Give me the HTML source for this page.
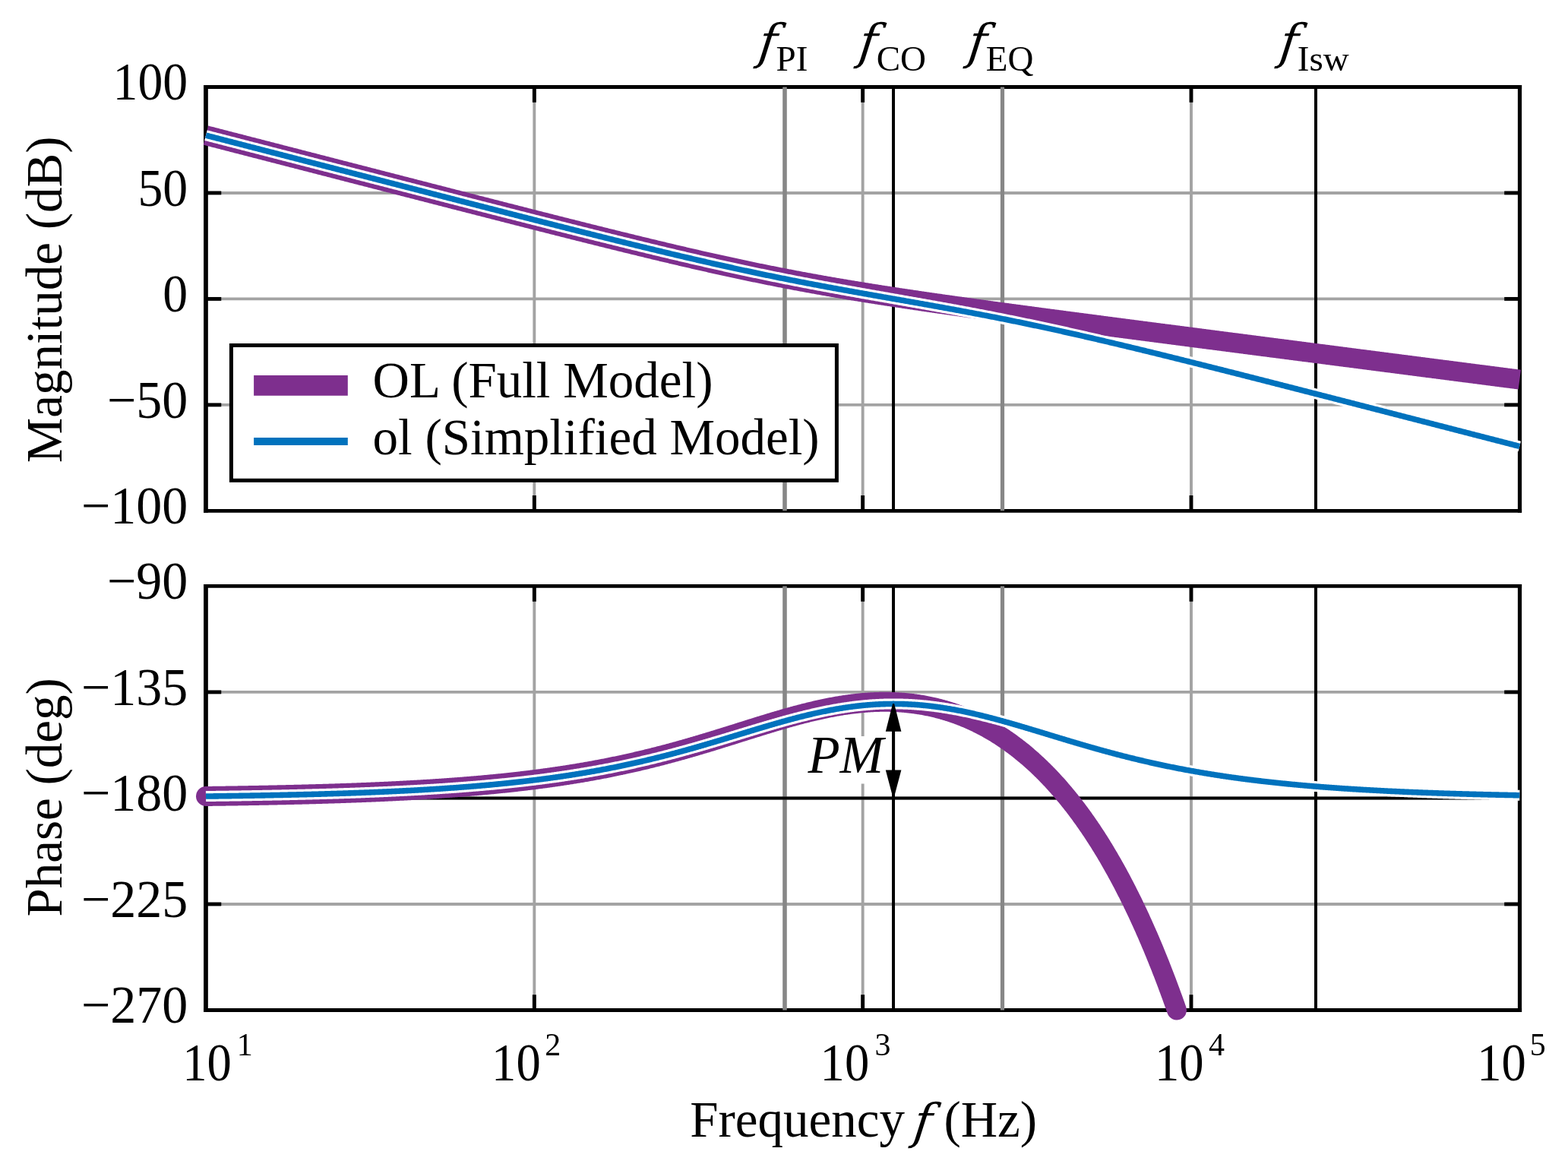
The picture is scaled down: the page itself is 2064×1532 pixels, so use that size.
<!DOCTYPE html><html><head><meta charset="utf-8"><style>html,body{margin:0;padding:0;background:#fff;overflow:hidden}svg{display:block}</style></head><body><svg width="2064" height="1532" viewBox="0 0 2064 1532"><rect x="0" y="0" width="2064" height="1532" fill="#fff"/><g stroke="#a3a3a3" stroke-width="3.9"><line x1="271.0" y1="253.93" x2="2000.32" y2="253.93"/><line x1="271.0" y1="393.40" x2="2000.32" y2="393.40"/><line x1="271.0" y1="532.88" x2="2000.32" y2="532.88"/><line x1="271.0" y1="910.92" x2="2000.32" y2="910.92"/><line x1="271.0" y1="1050.45" x2="2000.32" y2="1050.45"/><line x1="271.0" y1="1189.97" x2="2000.32" y2="1189.97"/><line x1="703.33" y1="114.45" x2="703.33" y2="672.35"/><line x1="703.33" y1="771.4" x2="703.33" y2="1329.5"/><line x1="1135.66" y1="114.45" x2="1135.66" y2="672.35"/><line x1="1135.66" y1="771.4" x2="1135.66" y2="1329.5"/><line x1="1567.99" y1="114.45" x2="1567.99" y2="672.35"/><line x1="1567.99" y1="771.4" x2="1567.99" y2="1329.5"/></g><g stroke="#000" stroke-width="4.9"><line x1="268.05" y1="114.45" x2="2003.10" y2="114.45" stroke-width="4.9"/><line x1="268.05" y1="672.35" x2="2003.10" y2="672.35" stroke-width="4.9"/><line x1="270.95" y1="112.00" x2="270.95" y2="674.80" stroke-width="5.8"/><line x1="2000.5" y1="112.00" x2="2000.5" y2="674.80" stroke-width="5.2"/><line x1="703.33" y1="114.45" x2="703.33" y2="134.75"/><line x1="703.33" y1="672.35" x2="703.33" y2="652.0500000000001"/><line x1="1135.66" y1="114.45" x2="1135.66" y2="134.75"/><line x1="1135.66" y1="672.35" x2="1135.66" y2="652.0500000000001"/><line x1="1567.99" y1="114.45" x2="1567.99" y2="134.75"/><line x1="1567.99" y1="672.35" x2="1567.99" y2="652.0500000000001"/><line x1="270.95" y1="253.93" x2="291.25" y2="253.93"/><line x1="2000.50" y1="253.93" x2="1980.20" y2="253.93"/><line x1="270.95" y1="393.40" x2="291.25" y2="393.40"/><line x1="2000.50" y1="393.40" x2="1980.20" y2="393.40"/><line x1="270.95" y1="532.88" x2="291.25" y2="532.88"/><line x1="2000.50" y1="532.88" x2="1980.20" y2="532.88"/></g><g stroke="#000" stroke-width="4.9"><line x1="268.05" y1="771.4" x2="2003.10" y2="771.4" stroke-width="4.9"/><line x1="268.05" y1="1329.5" x2="2003.10" y2="1329.5" stroke-width="4.9"/><line x1="270.95" y1="768.95" x2="270.95" y2="1331.95" stroke-width="5.8"/><line x1="2000.5" y1="768.95" x2="2000.5" y2="1331.95" stroke-width="5.2"/><line x1="703.33" y1="771.4" x2="703.33" y2="791.6999999999999"/><line x1="703.33" y1="1329.5" x2="703.33" y2="1309.2"/><line x1="1135.66" y1="771.4" x2="1135.66" y2="791.6999999999999"/><line x1="1135.66" y1="1329.5" x2="1135.66" y2="1309.2"/><line x1="1567.99" y1="771.4" x2="1567.99" y2="791.6999999999999"/><line x1="1567.99" y1="1329.5" x2="1567.99" y2="1309.2"/><line x1="270.95" y1="910.92" x2="291.25" y2="910.92"/><line x1="2000.50" y1="910.92" x2="1980.20" y2="910.92"/><line x1="270.95" y1="1050.45" x2="291.25" y2="1050.45"/><line x1="2000.50" y1="1050.45" x2="1980.20" y2="1050.45"/><line x1="270.95" y1="1189.97" x2="291.25" y2="1189.97"/><line x1="2000.50" y1="1189.97" x2="1980.20" y2="1189.97"/></g><line x1="1033.00" y1="114.45" x2="1033.00" y2="672.35" stroke="#878787" stroke-width="5.6"/><line x1="1033.00" y1="771.4" x2="1033.00" y2="1329.5" stroke="#878787" stroke-width="5.6"/><line x1="1176.00" y1="114.45" x2="1176.00" y2="672.35" stroke="#000" stroke-width="4"/><line x1="1176.00" y1="771.4" x2="1176.00" y2="1329.5" stroke="#000" stroke-width="4"/><line x1="1319.50" y1="114.45" x2="1319.50" y2="672.35" stroke="#878787" stroke-width="5.2"/><line x1="1319.50" y1="771.4" x2="1319.50" y2="1329.5" stroke="#878787" stroke-width="5.2"/><line x1="1732.00" y1="114.45" x2="1732.00" y2="672.35" stroke="#000" stroke-width="4"/><line x1="1732.00" y1="771.4" x2="1732.00" y2="1329.5" stroke="#000" stroke-width="4"/><line x1="271.0" y1="1050.45" x2="2000.32" y2="1050.45" stroke="#000" stroke-width="4"/><polyline points="271.00,178.12 272.15,178.42 273.31,178.72 274.46,179.02 275.61,179.31 276.77,179.61 277.92,179.91 279.08,180.21 280.23,180.50 281.38,180.80 282.54,181.10 283.69,181.40 284.84,181.70 286.00,181.99 287.15,182.29 288.30,182.59 289.46,182.89 290.61,183.18 291.77,183.48 292.92,183.78 294.07,184.08 295.23,184.37 296.38,184.67 297.53,184.97 298.69,185.27 299.84,185.57 300.99,185.86 302.15,186.16 303.30,186.46 304.46,186.76 305.61,187.05 306.76,187.35 307.92,187.65 309.07,187.95 310.22,188.24 311.38,188.54 312.53,188.84 313.69,189.14 314.84,189.44 315.99,189.73 317.15,190.03 318.30,190.33 319.45,190.63 320.61,190.92 321.76,191.22 322.91,191.52 324.07,191.82 325.22,192.11 326.38,192.41 327.53,192.71 328.68,193.01 329.84,193.30 330.99,193.60 332.14,193.90 333.30,194.20 334.45,194.50 335.60,194.79 336.76,195.09 337.91,195.39 339.07,195.69 340.22,195.98 341.37,196.28 342.53,196.58 343.68,196.88 344.83,197.17 345.99,197.47 347.14,197.77 348.29,198.07 349.45,198.36 350.60,198.66 351.76,198.96 352.91,199.26 354.06,199.56 355.22,199.85 356.37,200.15 357.52,200.45 358.68,200.75 359.83,201.04 360.98,201.34 362.14,201.64 363.29,201.94 364.45,202.23 365.60,202.53 366.75,202.83 367.91,203.13 369.06,203.42 370.21,203.72 371.37,204.02 372.52,204.32 373.67,204.61 374.83,204.91 375.98,205.21 377.14,205.51 378.29,205.81 379.44,206.10 380.60,206.40 381.75,206.70 382.90,207.00 384.06,207.29 385.21,207.59 386.36,207.89 387.52,208.19 388.67,208.48 389.83,208.78 390.98,209.08 392.13,209.38 393.29,209.67 394.44,209.97 395.59,210.27 396.75,210.57 397.90,210.86 399.06,211.16 400.21,211.46 401.36,211.76 402.52,212.05 403.67,212.35 404.82,212.65 405.98,212.95 407.13,213.24 408.28,213.54 409.44,213.84 410.59,214.14 411.75,214.44 412.90,214.73 414.05,215.03 415.21,215.33 416.36,215.63 417.51,215.92 418.67,216.22 419.82,216.52 420.97,216.82 422.13,217.11 423.28,217.41 424.44,217.71 425.59,218.01 426.74,218.30 427.90,218.60 429.05,218.90 430.20,219.20 431.36,219.49 432.51,219.79 433.66,220.09 434.82,220.39 435.97,220.68 437.13,220.98 438.28,221.28 439.43,221.58 440.59,221.87 441.74,222.17 442.89,222.47 444.05,222.77 445.20,223.06 446.35,223.36 447.51,223.66 448.66,223.96 449.82,224.25 450.97,224.55 452.12,224.85 453.28,225.15 454.43,225.44 455.58,225.74 456.74,226.04 457.89,226.33 459.04,226.63 460.20,226.93 461.35,227.23 462.51,227.52 463.66,227.82 464.81,228.12 465.97,228.42 467.12,228.71 468.27,229.01 469.43,229.31 470.58,229.61 471.73,229.90 472.89,230.20 474.04,230.50 475.20,230.80 476.35,231.09 477.50,231.39 478.66,231.69 479.81,231.98 480.96,232.28 482.12,232.58 483.27,232.88 484.43,233.17 485.58,233.47 486.73,233.77 487.89,234.07 489.04,234.36 490.19,234.66 491.35,234.96 492.50,235.26 493.65,235.55 494.81,235.85 495.96,236.15 497.12,236.44 498.27,236.74 499.42,237.04 500.58,237.34 501.73,237.63 502.88,237.93 504.04,238.23 505.19,238.52 506.34,238.82 507.50,239.12 508.65,239.42 509.81,239.71 510.96,240.01 512.11,240.31 513.27,240.61 514.42,240.90 515.57,241.20 516.73,241.50 517.88,241.79 519.03,242.09 520.19,242.39 521.34,242.69 522.50,242.98 523.65,243.28 524.80,243.58 525.96,243.87 527.11,244.17 528.26,244.47 529.42,244.76 530.57,245.06 531.72,245.36 532.88,245.66 534.03,245.95 535.19,246.25 536.34,246.55 537.49,246.84 538.65,247.14 539.80,247.44 540.95,247.73 542.11,248.03 543.26,248.33 544.41,248.63 545.57,248.92 546.72,249.22 547.88,249.52 549.03,249.81 550.18,250.11 551.34,250.41 552.49,250.70 553.64,251.00 554.80,251.30 555.95,251.59 557.10,251.89 558.26,252.19 559.41,252.48 560.57,252.78 561.72,253.08 562.87,253.38 564.03,253.67 565.18,253.97 566.33,254.27 567.49,254.56 568.64,254.86 569.80,255.16 570.95,255.45 572.10,255.75 573.26,256.05 574.41,256.34 575.56,256.64 576.72,256.94 577.87,257.23 579.02,257.53 580.18,257.83 581.33,258.12 582.49,258.42 583.64,258.71 584.79,259.01 585.95,259.31 587.10,259.60 588.25,259.90 589.41,260.20 590.56,260.49 591.71,260.79 592.87,261.09 594.02,261.38 595.18,261.68 596.33,261.98 597.48,262.27 598.64,262.57 599.79,262.86 600.94,263.16 602.10,263.46 603.25,263.75 604.40,264.05 605.56,264.35 606.71,264.64 607.87,264.94 609.02,265.23 610.17,265.53 611.33,265.83 612.48,266.12 613.63,266.42 614.79,266.71 615.94,267.01 617.09,267.31 618.25,267.60 619.40,267.90 620.56,268.19 621.71,268.49 622.86,268.79 624.02,269.08 625.17,269.38 626.32,269.67 627.48,269.97 628.63,270.27 629.78,270.56 630.94,270.86 632.09,271.15 633.25,271.45 634.40,271.74 635.55,272.04 636.71,272.34 637.86,272.63 639.01,272.93 640.17,273.22 641.32,273.52 642.48,273.81 643.63,274.11 644.78,274.40 645.94,274.70 647.09,274.99 648.24,275.29 649.40,275.58 650.55,275.88 651.70,276.18 652.86,276.47 654.01,276.77 655.17,277.06 656.32,277.36 657.47,277.65 658.63,277.95 659.78,278.24 660.93,278.54 662.09,278.83 663.24,279.13 664.39,279.42 665.55,279.72 666.70,280.01 667.86,280.31 669.01,280.60 670.16,280.89 671.32,281.19 672.47,281.48 673.62,281.78 674.78,282.07 675.93,282.37 677.08,282.66 678.24,282.96 679.39,283.25 680.55,283.55 681.70,283.84 682.85,284.13 684.01,284.43 685.16,284.72 686.31,285.02 687.47,285.31 688.62,285.60 689.77,285.90 690.93,286.19 692.08,286.49 693.24,286.78 694.39,287.07 695.54,287.37 696.70,287.66 697.85,287.96 699.00,288.25 700.16,288.54 701.31,288.84 702.46,289.13 703.62,289.42 704.77,289.72 705.93,290.01 707.08,290.30 708.23,290.60 709.39,290.89 710.54,291.18 711.69,291.48 712.85,291.77 714.00,292.06 715.15,292.36 716.31,292.65 717.46,292.94 718.62,293.23 719.77,293.53 720.92,293.82 722.08,294.11 723.23,294.40 724.38,294.70 725.54,294.99 726.69,295.28 727.85,295.57 729.00,295.87 730.15,296.16 731.31,296.45 732.46,296.74 733.61,297.03 734.77,297.32 735.92,297.62 737.07,297.91 738.23,298.20 739.38,298.49 740.54,298.78 741.69,299.07 742.84,299.37 744.00,299.66 745.15,299.95 746.30,300.24 747.46,300.53 748.61,300.82 749.76,301.11 750.92,301.40 752.07,301.69 753.23,301.98 754.38,302.27 755.53,302.56 756.69,302.86 757.84,303.15 758.99,303.44 760.15,303.73 761.30,304.02 762.45,304.31 763.61,304.60 764.76,304.88 765.92,305.17 767.07,305.46 768.22,305.75 769.38,306.04 770.53,306.33 771.68,306.62 772.84,306.91 773.99,307.20 775.14,307.49 776.30,307.78 777.45,308.07 778.61,308.35 779.76,308.64 780.91,308.93 782.07,309.22 783.22,309.51 784.37,309.79 785.53,310.08 786.68,310.37 787.83,310.66 788.99,310.95 790.14,311.23 791.30,311.52 792.45,311.81 793.60,312.09 794.76,312.38 795.91,312.67 797.06,312.95 798.22,313.24 799.37,313.53 800.52,313.81 801.68,314.10 802.83,314.39 803.99,314.67 805.14,314.96 806.29,315.24 807.45,315.53 808.60,315.81 809.75,316.10 810.91,316.38 812.06,316.67 813.22,316.95 814.37,317.24 815.52,317.52 816.68,317.81 817.83,318.09 818.98,318.38 820.14,318.66 821.29,318.94 822.44,319.23 823.60,319.51 824.75,319.79 825.91,320.08 827.06,320.36 828.21,320.64 829.37,320.92 830.52,321.21 831.67,321.49 832.83,321.77 833.98,322.05 835.13,322.33 836.29,322.62 837.44,322.90 838.60,323.18 839.75,323.46 840.90,323.74 842.06,324.02 843.21,324.30 844.36,324.58 845.52,324.86 846.67,325.14 847.82,325.42 848.98,325.70 850.13,325.98 851.29,326.26 852.44,326.54 853.59,326.82 854.75,327.09 855.90,327.37 857.05,327.65 858.21,327.93 859.36,328.21 860.51,328.48 861.67,328.76 862.82,329.04 863.98,329.31 865.13,329.59 866.28,329.87 867.44,330.14 868.59,330.42 869.74,330.70 870.90,330.97 872.05,331.25 873.20,331.52 874.36,331.80 875.51,332.07 876.67,332.34 877.82,332.62 878.97,332.89 880.13,333.17 881.28,333.44 882.43,333.71 883.59,333.98 884.74,334.26 885.89,334.53 887.05,334.80 888.20,335.07 889.36,335.34 890.51,335.61 891.66,335.89 892.82,336.16 893.97,336.43 895.12,336.70 896.28,336.97 897.43,337.24 898.59,337.50 899.74,337.77 900.89,338.04 902.05,338.31 903.20,338.58 904.35,338.85 905.51,339.11 906.66,339.38 907.81,339.65 908.97,339.91 910.12,340.18 911.28,340.45 912.43,340.71 913.58,340.98 914.74,341.24 915.89,341.51 917.04,341.77 918.20,342.04 919.35,342.30 920.50,342.56 921.66,342.83 922.81,343.09 923.97,343.35 925.12,343.61 926.27,343.87 927.43,344.14 928.58,344.40 929.73,344.66 930.89,344.92 932.04,345.18 933.19,345.44 934.35,345.70 935.50,345.96 936.66,346.22 937.81,346.47 938.96,346.73 940.12,346.99 941.27,347.25 942.42,347.50 943.58,347.76 944.73,348.02 945.88,348.27 947.04,348.53 948.19,348.78 949.35,349.04 950.50,349.29 951.65,349.54 952.81,349.80 953.96,350.05 955.11,350.30 956.27,350.56 957.42,350.81 958.57,351.06 959.73,351.31 960.88,351.56 962.04,351.81 963.19,352.06 964.34,352.31 965.50,352.56 966.65,352.81 967.80,353.06 968.96,353.31 970.11,353.55 971.27,353.80 972.42,354.05 973.57,354.29 974.73,354.54 975.88,354.78 977.03,355.03 978.19,355.27 979.34,355.52 980.49,355.76 981.65,356.01 982.80,356.25 983.96,356.49 985.11,356.73 986.26,356.98 987.42,357.22 988.57,357.46 989.72,357.70 990.88,357.94 992.03,358.18 993.18,358.42 994.34,358.65 995.49,358.89 996.65,359.13 997.80,359.37 998.95,359.61 1000.11,359.84 1001.26,360.08 1002.41,360.31 1003.57,360.55 1004.72,360.78 1005.87,361.02 1007.03,361.25 1008.18,361.48 1009.34,361.72 1010.49,361.95 1011.64,362.18 1012.80,362.41 1013.95,362.64 1015.10,362.87 1016.26,363.10 1017.41,363.33 1018.56,363.56 1019.72,363.79 1020.87,364.02 1022.03,364.25 1023.18,364.48 1024.33,364.70 1025.49,364.93 1026.64,365.16 1027.79,365.38 1028.95,365.61 1030.10,365.83 1031.25,366.06 1032.41,366.28 1033.56,366.50 1034.72,366.73 1035.87,366.95 1037.02,367.17 1038.18,367.39 1039.33,367.61 1040.48,367.83 1041.64,368.05 1042.79,368.27 1043.94,368.49 1045.10,368.71 1046.25,368.93 1047.41,369.15 1048.56,369.36 1049.71,369.58 1050.87,369.80 1052.02,370.01 1053.17,370.23 1054.33,370.44 1055.48,370.66 1056.64,370.87 1057.79,371.09 1058.94,371.30 1060.10,371.51 1061.25,371.73 1062.40,371.94 1063.56,372.15 1064.71,372.36 1065.86,372.57 1067.02,372.78 1068.17,372.99 1069.33,373.20 1070.48,373.41 1071.63,373.62 1072.79,373.83 1073.94,374.03 1075.09,374.24 1076.25,374.45 1077.40,374.65 1078.55,374.86 1079.71,375.06 1080.86,375.27 1082.02,375.47 1083.17,375.68 1084.32,375.88 1085.48,376.08 1086.63,376.29 1087.78,376.49 1088.94,376.69 1090.09,376.89 1091.24,377.09 1092.40,377.29 1093.55,377.50 1094.71,377.70 1095.86,377.89 1097.01,378.09 1098.17,378.29 1099.32,378.49 1100.47,378.69 1101.63,378.89 1102.78,379.08 1103.93,379.28 1105.09,379.48 1106.24,379.67 1107.40,379.87 1108.55,380.06 1109.70,380.26 1110.86,380.45 1112.01,380.65 1113.16,380.84 1114.32,381.03 1115.47,381.22 1116.62,381.42 1117.78,381.61 1118.93,381.80 1120.09,381.99 1121.24,382.18 1122.39,382.37 1123.55,382.56 1124.70,382.75 1125.85,382.94 1127.01,383.13 1128.16,383.32 1129.31,383.51 1130.47,383.70 1131.62,383.88 1132.78,384.07 1133.93,384.26 1135.08,384.44 1136.24,384.63 1137.39,384.82 1138.54,385.00 1139.70,385.19 1140.85,385.37 1142.01,385.56 1143.16,385.74 1144.31,385.93 1145.47,386.11 1146.62,386.29 1147.77,386.48 1148.93,386.66 1150.08,386.84 1151.23,387.02 1152.39,387.20 1153.54,387.38 1154.70,387.57 1155.85,387.75 1157.00,387.93 1158.16,388.11 1159.31,388.29 1160.46,388.47 1161.62,388.65 1162.77,388.82 1163.92,389.00 1165.08,389.18 1166.23,389.36 1167.39,389.54 1168.54,389.71 1169.69,389.89 1170.85,390.07 1172.00,390.24 1173.15,390.42 1174.31,390.60 1175.46,390.77 1176.61,390.95 1177.77,391.12 1178.92,391.30 1180.08,391.47 1181.23,391.65 1182.38,391.82 1183.54,392.00 1184.69,392.17 1185.84,392.34 1187.00,392.52 1188.15,392.69 1189.30,392.86 1190.46,393.03 1191.61,393.21 1192.77,393.38 1193.92,393.55 1195.07,393.72 1196.23,393.89 1197.38,394.06 1198.53,394.23 1199.69,394.41 1200.84,394.58 1201.99,394.75 1203.15,394.92 1204.30,395.09 1205.46,395.25 1206.61,395.42 1207.76,395.59 1208.92,395.76 1210.07,395.93 1211.22,396.10 1212.38,396.27 1213.53,396.43 1214.68,396.60 1215.84,396.77 1216.99,396.94 1218.15,397.10 1219.30,397.27 1220.45,397.44 1221.61,397.61 1222.76,397.77 1223.91,397.94 1225.07,398.10 1226.22,398.27 1227.38,398.44 1228.53,398.60 1229.68,398.77 1230.84,398.93 1231.99,399.10 1233.14,399.26 1234.30,399.43 1235.45,399.59 1236.60,399.75 1237.76,399.92 1238.91,400.08 1240.07,400.25 1241.22,400.41 1242.37,400.57 1243.53,400.74 1244.68,400.90 1245.83,401.06 1246.99,401.22 1248.14,401.39 1249.29,401.55 1250.45,401.71 1251.60,401.87 1252.76,402.04 1253.91,402.20 1255.06,402.36 1256.22,402.52 1257.37,402.68 1258.52,402.84 1259.68,403.01 1260.83,403.17 1261.98,403.33 1263.14,403.49 1264.29,403.65 1265.45,403.81 1266.60,403.97 1267.75,404.13 1268.91,404.29 1270.06,404.45 1271.21,404.61 1272.37,404.77 1273.52,404.93 1274.67,405.09 1275.83,405.25 1276.98,405.41 1278.14,405.57 1279.29,405.72 1280.44,405.88 1281.60,406.04 1282.75,406.20 1283.90,406.36 1285.06,406.52 1286.21,406.68 1287.36,406.83 1288.52,406.99 1289.67,407.15 1290.83,407.31 1291.98,407.47 1293.13,407.62 1294.29,407.78 1295.44,407.94 1296.59,408.10 1297.75,408.25 1298.90,408.41 1300.05,408.57 1301.21,408.73 1302.36,408.88 1303.52,409.04 1304.67,409.20 1305.82,409.35 1306.98,409.51 1308.13,409.67 1309.28,409.82 1310.44,409.98 1311.59,410.13 1312.75,410.29 1313.90,410.45 1315.05,410.60 1316.21,410.76 1317.36,410.91 1318.51,411.07 1319.67,411.23 1320.82,411.38 1321.97,411.54 1323.13,411.69 1324.28,411.85 1325.44,412.00 1326.59,412.16 1327.74,412.31 1328.90,412.47 1330.05,412.62 1331.20,412.78 1332.36,412.93 1333.51,413.09 1334.66,413.24 1335.82,413.40 1336.97,413.55 1338.13,413.71 1339.28,413.86 1340.43,414.01 1341.59,414.17 1342.74,414.32 1343.89,414.48 1345.05,414.63 1346.20,414.78 1347.35,414.94 1348.51,415.09 1349.66,415.25 1350.82,415.40 1351.97,415.55 1353.12,415.71 1354.28,415.86 1355.43,416.01 1356.58,416.17 1357.74,416.32 1358.89,416.47 1360.04,416.63 1361.20,416.78 1362.35,416.93 1363.51,417.09 1364.66,417.24 1365.81,417.39 1366.97,417.55 1368.12,417.70 1369.27,417.85 1370.43,418.01 1371.58,418.16 1372.73,418.31 1373.89,418.46 1375.04,418.62 1376.20,418.77 1377.35,418.92 1378.50,419.07 1379.66,419.23 1380.81,419.38 1381.96,419.53 1383.12,419.68 1384.27,419.84 1385.43,419.99 1386.58,420.14 1387.73,420.29 1388.89,420.45 1390.04,420.60 1391.19,420.75 1392.35,420.90 1393.50,421.05 1394.65,421.21 1395.81,421.36 1396.96,421.51 1398.12,421.66 1399.27,421.81 1400.42,421.97 1401.58,422.12 1402.73,422.27 1403.88,422.42 1405.04,422.57 1406.19,422.72 1407.34,422.88 1408.50,423.03 1409.65,423.18 1410.81,423.33 1411.96,423.48 1413.11,423.63 1414.27,423.78 1415.42,423.94 1416.57,424.09 1417.73,424.24 1418.88,424.39 1420.03,424.54 1421.19,424.69 1422.34,424.84 1423.50,424.99 1424.65,425.15 1425.80,425.30 1426.96,425.45 1428.11,425.60 1429.26,425.75 1430.42,425.90 1431.57,426.05 1432.72,426.20 1433.88,426.35 1435.03,426.50 1436.19,426.66 1437.34,426.81 1438.49,426.96 1439.65,427.11 1440.80,427.26 1441.95,427.41 1443.11,427.56 1444.26,427.71 1445.41,427.86 1446.57,428.01 1447.72,428.16 1448.88,428.31 1450.03,428.46 1451.18,428.62 1452.34,428.77 1453.49,428.92 1454.64,429.07 1455.80,429.22 1456.95,429.37 1458.10,429.52 1459.26,429.67 1460.41,429.82 1461.57,429.97 1462.72,430.12 1463.87,430.27 1465.03,430.42 1466.18,430.57 1467.33,430.72 1468.49,430.87 1469.64,431.02 1470.80,431.17 1471.95,431.32 1473.10,431.47 1474.26,431.62 1475.41,431.77 1476.56,431.92 1477.72,432.07 1478.87,432.22 1480.02,432.37 1481.18,432.52 1482.33,432.67 1483.49,432.82 1484.64,432.97 1485.79,433.12 1486.95,433.27 1488.10,433.42 1489.25,433.57 1490.41,433.72 1491.56,433.87 1492.71,434.02 1493.87,434.17 1495.02,434.32 1496.18,434.47 1497.33,434.62 1498.48,434.77 1499.64,434.92 1500.79,435.07 1501.94,435.22 1503.10,435.37 1504.25,435.52 1505.40,435.67 1506.56,435.82 1507.71,435.97 1508.87,436.12 1510.02,436.27 1511.17,436.42 1512.33,436.57 1513.48,436.72 1514.63,436.87 1515.79,437.02 1516.94,437.17 1518.09,437.32 1519.25,437.47 1520.40,437.62 1521.56,437.77 1522.71,437.92 1523.86,438.07 1525.02,438.22 1526.17,438.37 1527.32,438.52 1528.48,438.67 1529.63,438.82 1530.78,438.97 1531.94,439.12 1533.09,439.27 1534.25,439.42 1535.40,439.57 1536.55,439.72 1537.71,439.86 1538.86,440.01 1540.01,440.16 1541.17,440.31 1542.32,440.46 1543.47,440.61 1544.63,440.76 1545.78,440.91 1546.94,441.06 1548.09,441.21 1549.24,441.36 1550.40,441.51 1551.55,441.66 1552.70,441.81 1553.86,441.96 1555.01,442.11 1556.17,442.26 1557.32,442.41 1558.47,442.56 1559.63,442.71 1560.78,442.85 1561.93,443.00 1563.09,443.15 1564.24,443.30 1565.39,443.45 1566.55,443.60 1567.70,443.75 1568.86,443.90 1570.01,444.05 1571.16,444.20 1572.32,444.35 1573.47,444.50 1574.62,444.65 1575.78,444.80 1576.93,444.95 1578.08,445.09 1579.24,445.24 1580.39,445.39 1581.55,445.54 1582.70,445.69 1583.85,445.84 1585.01,445.99 1586.16,446.14 1587.31,446.29 1588.47,446.44 1589.62,446.59 1590.77,446.74 1591.93,446.89 1593.08,447.04 1594.24,447.18 1595.39,447.33 1596.54,447.48 1597.70,447.63 1598.85,447.78 1600.00,447.93 1601.16,448.08 1602.31,448.23 1603.46,448.38 1604.62,448.53 1605.77,448.68 1606.93,448.83 1608.08,448.98 1609.23,449.12 1610.39,449.27 1611.54,449.42 1612.69,449.57 1613.85,449.72 1615.00,449.87 1616.15,450.02 1617.31,450.17 1618.46,450.32 1619.62,450.47 1620.77,450.62 1621.92,450.77 1623.08,450.91 1624.23,451.06 1625.38,451.21 1626.54,451.36 1627.69,451.51 1628.84,451.66 1630.00,451.81 1631.15,451.96 1632.31,452.11 1633.46,452.26 1634.61,452.41 1635.77,452.56 1636.92,452.70 1638.07,452.85 1639.23,453.00 1640.38,453.15 1641.54,453.30 1642.69,453.45 1643.84,453.60 1645.00,453.75 1646.15,453.90 1647.30,454.05 1648.46,454.20 1649.61,454.34 1650.76,454.49 1651.92,454.64 1653.07,454.79 1654.23,454.94 1655.38,455.09 1656.53,455.24 1657.69,455.39 1658.84,455.54 1659.99,455.69 1661.15,455.84 1662.30,455.98 1663.45,456.13 1664.61,456.28 1665.76,456.43 1666.92,456.58 1668.07,456.73 1669.22,456.88 1670.38,457.03 1671.53,457.18 1672.68,457.33 1673.84,457.47 1674.99,457.62 1676.14,457.77 1677.30,457.92 1678.45,458.07 1679.61,458.22 1680.76,458.37 1681.91,458.52 1683.07,458.67 1684.22,458.82 1685.37,458.96 1686.53,459.11 1687.68,459.26 1688.83,459.41 1689.99,459.56 1691.14,459.71 1692.30,459.86 1693.45,460.01 1694.60,460.16 1695.76,460.31 1696.91,460.45 1698.06,460.60 1699.22,460.75 1700.37,460.90 1701.52,461.05 1702.68,461.20 1703.83,461.35 1704.99,461.50 1706.14,461.65 1707.29,461.80 1708.45,461.94 1709.60,462.09 1710.75,462.24 1711.91,462.39 1713.06,462.54 1714.22,462.69 1715.37,462.84 1716.52,462.99 1717.68,463.14 1718.83,463.29 1719.98,463.43 1721.14,463.58 1722.29,463.73 1723.44,463.88 1724.60,464.03 1725.75,464.18 1726.91,464.33 1728.06,464.48 1729.21,464.63 1730.37,464.78 1731.52,464.92 1732.67,465.07 1733.83,465.22 1734.98,465.37 1736.13,465.52 1737.29,465.67 1738.44,465.82 1739.60,465.97 1740.75,466.12 1741.90,466.26 1743.06,466.41 1744.21,466.56 1745.36,466.71 1746.52,466.86 1747.67,467.01 1748.82,467.16 1749.98,467.31 1751.13,467.46 1752.29,467.61 1753.44,467.75 1754.59,467.90 1755.75,468.05 1756.90,468.20 1758.05,468.35 1759.21,468.50 1760.36,468.65 1761.51,468.80 1762.67,468.95 1763.82,469.09 1764.98,469.24 1766.13,469.39 1767.28,469.54 1768.44,469.69 1769.59,469.84 1770.74,469.99 1771.90,470.14 1773.05,470.29 1774.20,470.44 1775.36,470.58 1776.51,470.73 1777.67,470.88 1778.82,471.03 1779.97,471.18 1781.13,471.33 1782.28,471.48 1783.43,471.63 1784.59,471.78 1785.74,471.92 1786.89,472.07 1788.05,472.22 1789.20,472.37 1790.36,472.52 1791.51,472.67 1792.66,472.82 1793.82,472.97 1794.97,473.12 1796.12,473.26 1797.28,473.41 1798.43,473.56 1799.59,473.71 1800.74,473.86 1801.89,474.01 1803.05,474.16 1804.20,474.31 1805.35,474.46 1806.51,474.60 1807.66,474.75 1808.81,474.90 1809.97,475.05 1811.12,475.20 1812.28,475.35 1813.43,475.50 1814.58,475.65 1815.74,475.80 1816.89,475.95 1818.04,476.09 1819.20,476.24 1820.35,476.39 1821.50,476.54 1822.66,476.69 1823.81,476.84 1824.97,476.99 1826.12,477.14 1827.27,477.29 1828.43,477.43 1829.58,477.58 1830.73,477.73 1831.89,477.88 1833.04,478.03 1834.19,478.18 1835.35,478.33 1836.50,478.48 1837.66,478.63 1838.81,478.77 1839.96,478.92 1841.12,479.07 1842.27,479.22 1843.42,479.37 1844.58,479.52 1845.73,479.67 1846.88,479.82 1848.04,479.97 1849.19,480.11 1850.35,480.26 1851.50,480.41 1852.65,480.56 1853.81,480.71 1854.96,480.86 1856.11,481.01 1857.27,481.16 1858.42,481.31 1859.57,481.45 1860.73,481.60 1861.88,481.75 1863.04,481.90 1864.19,482.05 1865.34,482.20 1866.50,482.35 1867.65,482.50 1868.80,482.65 1869.96,482.79 1871.11,482.94 1872.26,483.09 1873.42,483.24 1874.57,483.39 1875.73,483.54 1876.88,483.69 1878.03,483.84 1879.19,483.99 1880.34,484.13 1881.49,484.28 1882.65,484.43 1883.80,484.58 1884.96,484.73 1886.11,484.88 1887.26,485.03 1888.42,485.18 1889.57,485.33 1890.72,485.47 1891.88,485.62 1893.03,485.77 1894.18,485.92 1895.34,486.07 1896.49,486.22 1897.65,486.37 1898.80,486.52 1899.95,486.67 1901.11,486.81 1902.26,486.96 1903.41,487.11 1904.57,487.26 1905.72,487.41 1906.87,487.56 1908.03,487.71 1909.18,487.86 1910.34,488.01 1911.49,488.15 1912.64,488.30 1913.80,488.45 1914.95,488.60 1916.10,488.75 1917.26,488.90 1918.41,489.05 1919.56,489.20 1920.72,489.35 1921.87,489.49 1923.03,489.64 1924.18,489.79 1925.33,489.94 1926.49,490.09 1927.64,490.24 1928.79,490.39 1929.95,490.54 1931.10,490.69 1932.25,490.83 1933.41,490.98 1934.56,491.13 1935.72,491.28 1936.87,491.43 1938.02,491.58 1939.18,491.73 1940.33,491.88 1941.48,492.03 1942.64,492.17 1943.79,492.32 1944.94,492.47 1946.10,492.62 1947.25,492.77 1948.41,492.92 1949.56,493.07 1950.71,493.22 1951.87,493.37 1953.02,493.51 1954.17,493.66 1955.33,493.81 1956.48,493.96 1957.63,494.11 1958.79,494.26 1959.94,494.41 1961.10,494.56 1962.25,494.71 1963.40,494.85 1964.56,495.00 1965.71,495.15 1966.86,495.30 1968.02,495.45 1969.17,495.60 1970.33,495.75 1971.48,495.90 1972.63,496.05 1973.79,496.19 1974.94,496.34 1976.09,496.49 1977.25,496.64 1978.40,496.79 1979.55,496.94 1980.71,497.09 1981.86,497.24 1983.02,497.39 1984.17,497.53 1985.32,497.68 1986.48,497.83 1987.63,497.98 1988.78,498.13 1989.94,498.28 1991.09,498.43 1992.24,498.58 1993.40,498.73 1994.55,498.87 1995.71,499.02 1996.86,499.17 1998.01,499.32 1999.17,499.47 2000.32,499.62" fill="none" stroke="#7E2F8E" stroke-width="26" stroke-linejoin="round"/><polyline points="271.00,178.12 272.15,178.42 273.31,178.72 274.46,179.02 275.61,179.31 276.77,179.61 277.92,179.91 279.08,180.21 280.23,180.50 281.38,180.80 282.54,181.10 283.69,181.40 284.84,181.70 286.00,181.99 287.15,182.29 288.30,182.59 289.46,182.89 290.61,183.18 291.77,183.48 292.92,183.78 294.07,184.08 295.23,184.37 296.38,184.67 297.53,184.97 298.69,185.27 299.84,185.57 300.99,185.86 302.15,186.16 303.30,186.46 304.46,186.76 305.61,187.05 306.76,187.35 307.92,187.65 309.07,187.95 310.22,188.24 311.38,188.54 312.53,188.84 313.69,189.14 314.84,189.44 315.99,189.73 317.15,190.03 318.30,190.33 319.45,190.63 320.61,190.92 321.76,191.22 322.91,191.52 324.07,191.82 325.22,192.11 326.38,192.41 327.53,192.71 328.68,193.01 329.84,193.31 330.99,193.60 332.14,193.90 333.30,194.20 334.45,194.50 335.60,194.79 336.76,195.09 337.91,195.39 339.07,195.69 340.22,195.98 341.37,196.28 342.53,196.58 343.68,196.88 344.83,197.17 345.99,197.47 347.14,197.77 348.29,198.07 349.45,198.37 350.60,198.66 351.76,198.96 352.91,199.26 354.06,199.56 355.22,199.85 356.37,200.15 357.52,200.45 358.68,200.75 359.83,201.04 360.98,201.34 362.14,201.64 363.29,201.94 364.45,202.23 365.60,202.53 366.75,202.83 367.91,203.13 369.06,203.43 370.21,203.72 371.37,204.02 372.52,204.32 373.67,204.62 374.83,204.91 375.98,205.21 377.14,205.51 378.29,205.81 379.44,206.10 380.60,206.40 381.75,206.70 382.90,207.00 384.06,207.29 385.21,207.59 386.36,207.89 387.52,208.19 388.67,208.48 389.83,208.78 390.98,209.08 392.13,209.38 393.29,209.67 394.44,209.97 395.59,210.27 396.75,210.57 397.90,210.87 399.06,211.16 400.21,211.46 401.36,211.76 402.52,212.06 403.67,212.35 404.82,212.65 405.98,212.95 407.13,213.25 408.28,213.54 409.44,213.84 410.59,214.14 411.75,214.44 412.90,214.73 414.05,215.03 415.21,215.33 416.36,215.63 417.51,215.92 418.67,216.22 419.82,216.52 420.97,216.82 422.13,217.11 423.28,217.41 424.44,217.71 425.59,218.01 426.74,218.30 427.90,218.60 429.05,218.90 430.20,219.20 431.36,219.49 432.51,219.79 433.66,220.09 434.82,220.39 435.97,220.68 437.13,220.98 438.28,221.28 439.43,221.58 440.59,221.87 441.74,222.17 442.89,222.47 444.05,222.77 445.20,223.06 446.35,223.36 447.51,223.66 448.66,223.96 449.82,224.25 450.97,224.55 452.12,224.85 453.28,225.15 454.43,225.44 455.58,225.74 456.74,226.04 457.89,226.34 459.04,226.63 460.20,226.93 461.35,227.23 462.51,227.53 463.66,227.82 464.81,228.12 465.97,228.42 467.12,228.72 468.27,229.01 469.43,229.31 470.58,229.61 471.73,229.90 472.89,230.20 474.04,230.50 475.20,230.80 476.35,231.09 477.50,231.39 478.66,231.69 479.81,231.99 480.96,232.28 482.12,232.58 483.27,232.88 484.43,233.18 485.58,233.47 486.73,233.77 487.89,234.07 489.04,234.37 490.19,234.66 491.35,234.96 492.50,235.26 493.65,235.55 494.81,235.85 495.96,236.15 497.12,236.45 498.27,236.74 499.42,237.04 500.58,237.34 501.73,237.64 502.88,237.93 504.04,238.23 505.19,238.53 506.34,238.82 507.50,239.12 508.65,239.42 509.81,239.72 510.96,240.01 512.11,240.31 513.27,240.61 514.42,240.90 515.57,241.20 516.73,241.50 517.88,241.80 519.03,242.09 520.19,242.39 521.34,242.69 522.50,242.98 523.65,243.28 524.80,243.58 525.96,243.88 527.11,244.17 528.26,244.47 529.42,244.77 530.57,245.06 531.72,245.36 532.88,245.66 534.03,245.96 535.19,246.25 536.34,246.55 537.49,246.85 538.65,247.14 539.80,247.44 540.95,247.74 542.11,248.03 543.26,248.33 544.41,248.63 545.57,248.93 546.72,249.22 547.88,249.52 549.03,249.82 550.18,250.11 551.34,250.41 552.49,250.71 553.64,251.00 554.80,251.30 555.95,251.60 557.10,251.89 558.26,252.19 559.41,252.49 560.57,252.79 561.72,253.08 562.87,253.38 564.03,253.68 565.18,253.97 566.33,254.27 567.49,254.57 568.64,254.86 569.80,255.16 570.95,255.46 572.10,255.75 573.26,256.05 574.41,256.35 575.56,256.64 576.72,256.94 577.87,257.24 579.02,257.53 580.18,257.83 581.33,258.13 582.49,258.42 583.64,258.72 584.79,259.02 585.95,259.31 587.10,259.61 588.25,259.91 589.41,260.20 590.56,260.50 591.71,260.80 592.87,261.09 594.02,261.39 595.18,261.68 596.33,261.98 597.48,262.28 598.64,262.57 599.79,262.87 600.94,263.17 602.10,263.46 603.25,263.76 604.40,264.06 605.56,264.35 606.71,264.65 607.87,264.94 609.02,265.24 610.17,265.54 611.33,265.83 612.48,266.13 613.63,266.43 614.79,266.72 615.94,267.02 617.09,267.31 618.25,267.61 619.40,267.91 620.56,268.20 621.71,268.50 622.86,268.79 624.02,269.09 625.17,269.39 626.32,269.68 627.48,269.98 628.63,270.27 629.78,270.57 630.94,270.86 632.09,271.16 633.25,271.46 634.40,271.75 635.55,272.05 636.71,272.34 637.86,272.64 639.01,272.93 640.17,273.23 641.32,273.53 642.48,273.82 643.63,274.12 644.78,274.41 645.94,274.71 647.09,275.00 648.24,275.30 649.40,275.59 650.55,275.89 651.70,276.19 652.86,276.48 654.01,276.78 655.17,277.07 656.32,277.37 657.47,277.66 658.63,277.96 659.78,278.25 660.93,278.55 662.09,278.84 663.24,279.14 664.39,279.43 665.55,279.73 666.70,280.02 667.86,280.32 669.01,280.61 670.16,280.91 671.32,281.20 672.47,281.50 673.62,281.79 674.78,282.09 675.93,282.38 677.08,282.68 678.24,282.97 679.39,283.26 680.55,283.56 681.70,283.85 682.85,284.15 684.01,284.44 685.16,284.74 686.31,285.03 687.47,285.33 688.62,285.62 689.77,285.91 690.93,286.21 692.08,286.50 693.24,286.80 694.39,287.09 695.54,287.38 696.70,287.68 697.85,287.97 699.00,288.27 700.16,288.56 701.31,288.85 702.46,289.15 703.62,289.44 704.77,289.73 705.93,290.03 707.08,290.32 708.23,290.61 709.39,290.91 710.54,291.20 711.69,291.49 712.85,291.79 714.00,292.08 715.15,292.37 716.31,292.67 717.46,292.96 718.62,293.25 719.77,293.55 720.92,293.84 722.08,294.13 723.23,294.42 724.38,294.72 725.54,295.01 726.69,295.30 727.85,295.60 729.00,295.89 730.15,296.18 731.31,296.47 732.46,296.76 733.61,297.06 734.77,297.35 735.92,297.64 737.07,297.93 738.23,298.22 739.38,298.52 740.54,298.81 741.69,299.10 742.84,299.39 744.00,299.68 745.15,299.97 746.30,300.27 747.46,300.56 748.61,300.85 749.76,301.14 750.92,301.43 752.07,301.72 753.23,302.01 754.38,302.30 755.53,302.59 756.69,302.89 757.84,303.18 758.99,303.47 760.15,303.76 761.30,304.05 762.45,304.34 763.61,304.63 764.76,304.92 765.92,305.21 767.07,305.50 768.22,305.79 769.38,306.08 770.53,306.37 771.68,306.66 772.84,306.95 773.99,307.24 775.14,307.52 776.30,307.81 777.45,308.10 778.61,308.39 779.76,308.68 780.91,308.97 782.07,309.26 783.22,309.55 784.37,309.84 785.53,310.12 786.68,310.41 787.83,310.70 788.99,310.99 790.14,311.28 791.30,311.56 792.45,311.85 793.60,312.14 794.76,312.43 795.91,312.71 797.06,313.00 798.22,313.29 799.37,313.57 800.52,313.86 801.68,314.15 802.83,314.44 803.99,314.72 805.14,315.01 806.29,315.29 807.45,315.58 808.60,315.87 809.75,316.15 810.91,316.44 812.06,316.72 813.22,317.01 814.37,317.29 815.52,317.58 816.68,317.86 817.83,318.15 818.98,318.43 820.14,318.72 821.29,319.00 822.44,319.29 823.60,319.57 824.75,319.86 825.91,320.14 827.06,320.42 828.21,320.71 829.37,320.99 830.52,321.27 831.67,321.56 832.83,321.84 833.98,322.12 835.13,322.40 836.29,322.69 837.44,322.97 838.60,323.25 839.75,323.53 840.90,323.81 842.06,324.10 843.21,324.38 844.36,324.66 845.52,324.94 846.67,325.22 847.82,325.50 848.98,325.78 850.13,326.06 851.29,326.34 852.44,326.62 853.59,326.90 854.75,327.18 855.90,327.46 857.05,327.74 858.21,328.02 859.36,328.30 860.51,328.57 861.67,328.85 862.82,329.13 863.98,329.41 865.13,329.69 866.28,329.96 867.44,330.24 868.59,330.52 869.74,330.80 870.90,331.07 872.05,331.35 873.20,331.62 874.36,331.90 875.51,332.18 876.67,332.45 877.82,332.73 878.97,333.00 880.13,333.28 881.28,333.55 882.43,333.83 883.59,334.10 884.74,334.37 885.89,334.65 887.05,334.92 888.20,335.19 889.36,335.47 890.51,335.74 891.66,336.01 892.82,336.28 893.97,336.56 895.12,336.83 896.28,337.10 897.43,337.37 898.59,337.64 899.74,337.91 900.89,338.18 902.05,338.45 903.20,338.72 904.35,338.99 905.51,339.26 906.66,339.53 907.81,339.80 908.97,340.07 910.12,340.33 911.28,340.60 912.43,340.87 913.58,341.14 914.74,341.40 915.89,341.67 917.04,341.94 918.20,342.20 919.35,342.47 920.50,342.73 921.66,343.00 922.81,343.26 923.97,343.53 925.12,343.79 926.27,344.06 927.43,344.32 928.58,344.58 929.73,344.85 930.89,345.11 932.04,345.37 933.19,345.63 934.35,345.90 935.50,346.16 936.66,346.42 937.81,346.68 938.96,346.94 940.12,347.20 941.27,347.46 942.42,347.72 943.58,347.98 944.73,348.24 945.88,348.50 947.04,348.75 948.19,349.01 949.35,349.27 950.50,349.53 951.65,349.78 952.81,350.04 953.96,350.30 955.11,350.55 956.27,350.81 957.42,351.06 958.57,351.32 959.73,351.57 960.88,351.82 962.04,352.08 963.19,352.33 964.34,352.58 965.50,352.84 966.65,353.09 967.80,353.34 968.96,353.59 970.11,353.84 971.27,354.09 972.42,354.34 973.57,354.59 974.73,354.84 975.88,355.09 977.03,355.34 978.19,355.59 979.34,355.84 980.49,356.09 981.65,356.33 982.80,356.58 983.96,356.83 985.11,357.07 986.26,357.32 987.42,357.56 988.57,357.81 989.72,358.05 990.88,358.30 992.03,358.54 993.18,358.79 994.34,359.03 995.49,359.27 996.65,359.51 997.80,359.76 998.95,360.00 1000.11,360.24 1001.26,360.48 1002.41,360.72 1003.57,360.96 1004.72,361.20 1005.87,361.44 1007.03,361.68 1008.18,361.92 1009.34,362.15 1010.49,362.39 1011.64,362.63 1012.80,362.87 1013.95,363.10 1015.10,363.34 1016.26,363.57 1017.41,363.81 1018.56,364.05 1019.72,364.28 1020.87,364.51 1022.03,364.75 1023.18,364.98 1024.33,365.21 1025.49,365.45 1026.64,365.68 1027.79,365.91 1028.95,366.14 1030.10,366.37 1031.25,366.60 1032.41,366.84 1033.56,367.07 1034.72,367.29 1035.87,367.52 1037.02,367.75 1038.18,367.98 1039.33,368.21 1040.48,368.44 1041.64,368.67 1042.79,368.89 1043.94,369.12 1045.10,369.35 1046.25,369.57 1047.41,369.80 1048.56,370.02 1049.71,370.25 1050.87,370.47 1052.02,370.70 1053.17,370.92 1054.33,371.14 1055.48,371.37 1056.64,371.59 1057.79,371.81 1058.94,372.03 1060.10,372.25 1061.25,372.48 1062.40,372.70 1063.56,372.92 1064.71,373.14 1065.86,373.36 1067.02,373.58 1068.17,373.80 1069.33,374.02 1070.48,374.23 1071.63,374.45 1072.79,374.67 1073.94,374.89 1075.09,375.10 1076.25,375.32 1077.40,375.54 1078.55,375.75 1079.71,375.97 1080.86,376.19 1082.02,376.40 1083.17,376.62 1084.32,376.83 1085.48,377.05 1086.63,377.26 1087.78,377.47 1088.94,377.69 1090.09,377.90 1091.24,378.12 1092.40,378.33 1093.55,378.54 1094.71,378.75 1095.86,378.96 1097.01,379.18 1098.17,379.39 1099.32,379.60 1100.47,379.81 1101.63,380.02 1102.78,380.23 1103.93,380.44 1105.09,380.65 1106.24,380.86 1107.40,381.07 1108.55,381.28 1109.70,381.49 1110.86,381.70 1112.01,381.91 1113.16,382.11 1114.32,382.32 1115.47,382.53 1116.62,382.74 1117.78,382.95 1118.93,383.15 1120.09,383.36 1121.24,383.57 1122.39,383.77 1123.55,383.98 1124.70,384.19 1125.85,384.39 1127.01,384.60 1128.16,384.80 1129.31,385.01 1130.47,385.21 1131.62,385.42 1132.78,385.63 1133.93,385.83 1135.08,386.03 1136.24,386.24 1137.39,386.44 1138.54,386.65 1139.70,386.85 1140.85,387.06 1142.01,387.26 1143.16,387.46 1144.31,387.67 1145.47,387.87 1146.62,388.08 1147.77,388.28 1148.93,388.48 1150.08,388.69 1151.23,388.89 1152.39,389.09 1153.54,389.29 1154.70,389.50 1155.85,389.70 1157.00,389.90 1158.16,390.10 1159.31,390.31 1160.46,390.51 1161.62,390.71 1162.77,390.91 1163.92,391.12 1165.08,391.32 1166.23,391.52 1167.39,391.72 1168.54,391.93 1169.69,392.13 1170.85,392.33 1172.00,392.53 1173.15,392.73 1174.31,392.94 1175.46,393.14 1176.61,393.34 1177.77,393.54 1178.92,393.74 1180.08,393.95 1181.23,394.15 1182.38,394.35 1183.54,394.55 1184.69,394.76 1185.84,394.96 1187.00,395.16 1188.15,395.36 1189.30,395.56 1190.46,395.77 1191.61,395.97 1192.77,396.17 1193.92,396.37 1195.07,396.58 1196.23,396.78 1197.38,396.98 1198.53,397.18 1199.69,397.39 1200.84,397.59 1201.99,397.79 1203.15,398.00 1204.30,398.20 1205.46,398.40 1206.61,398.61 1207.76,398.81 1208.92,399.01 1210.07,399.22 1211.22,399.42 1212.38,399.63 1213.53,399.83 1214.68,400.03 1215.84,400.24 1216.99,400.44 1218.15,400.65 1219.30,400.85 1220.45,401.06 1221.61,401.26 1222.76,401.47 1223.91,401.67 1225.07,401.88 1226.22,402.09 1227.38,402.29 1228.53,402.50 1229.68,402.70 1230.84,402.91 1231.99,403.12 1233.14,403.32 1234.30,403.53 1235.45,403.74 1236.60,403.95 1237.76,404.15 1238.91,404.36 1240.07,404.57 1241.22,404.78 1242.37,404.99 1243.53,405.20 1244.68,405.41 1245.83,405.62 1246.99,405.82 1248.14,406.03 1249.29,406.24 1250.45,406.46 1251.60,406.67 1252.76,406.88 1253.91,407.09 1255.06,407.30 1256.22,407.51 1257.37,407.72 1258.52,407.93 1259.68,408.15 1260.83,408.36 1261.98,408.57 1263.14,408.79 1264.29,409.00 1265.45,409.21 1266.60,409.43 1267.75,409.64 1268.91,409.86 1270.06,410.07 1271.21,410.29 1272.37,410.50 1273.52,410.72 1274.67,410.94 1275.83,411.15 1276.98,411.37 1278.14,411.59 1279.29,411.80 1280.44,412.02 1281.60,412.24 1282.75,412.46 1283.90,412.68 1285.06,412.90 1286.21,413.12 1287.36,413.34 1288.52,413.56 1289.67,413.78 1290.83,414.00 1291.98,414.22 1293.13,414.44 1294.29,414.66 1295.44,414.88 1296.59,415.11 1297.75,415.33 1298.90,415.55 1300.05,415.78 1301.21,416.00 1302.36,416.22 1303.52,416.45 1304.67,416.67 1305.82,416.90 1306.98,417.13 1308.13,417.35 1309.28,417.58 1310.44,417.80 1311.59,418.03 1312.75,418.26 1313.90,418.49 1315.05,418.72 1316.21,418.94 1317.36,419.17 1318.51,419.40 1319.67,419.63 1320.82,419.86 1321.97,420.09 1323.13,420.33 1324.28,420.56 1325.44,420.79 1326.59,421.02 1327.74,421.25 1328.90,421.49 1330.05,421.72 1331.20,421.95 1332.36,422.19 1333.51,422.42 1334.66,422.66 1335.82,422.89 1336.97,423.13 1338.13,423.36 1339.28,423.60 1340.43,423.84 1341.59,424.07 1342.74,424.31 1343.89,424.55 1345.05,424.79 1346.20,425.03 1347.35,425.27 1348.51,425.51 1349.66,425.75 1350.82,425.99 1351.97,426.23 1353.12,426.47 1354.28,426.71 1355.43,426.95 1356.58,427.19 1357.74,427.44 1358.89,427.68 1360.04,427.92 1361.20,428.17 1362.35,428.41 1363.51,428.65 1364.66,428.90 1365.81,429.14 1366.97,429.39 1368.12,429.64 1369.27,429.88 1370.43,430.13 1371.58,430.38 1372.73,430.62 1373.89,430.87 1375.04,431.12 1376.20,431.37 1377.35,431.62 1378.50,431.87 1379.66,432.12 1380.81,432.37 1381.96,432.62 1383.12,432.87 1384.27,433.12 1385.43,433.37 1386.58,433.62 1387.73,433.88 1388.89,434.13 1390.04,434.38 1391.19,434.64 1392.35,434.89 1393.50,435.14 1394.65,435.40 1395.81,435.65 1396.96,435.91 1398.12,436.16 1399.27,436.42 1400.42,436.68 1401.58,436.93 1402.73,437.19 1403.88,437.45 1405.04,437.70 1406.19,437.96 1407.34,438.22 1408.50,438.48 1409.65,438.74 1410.81,439.00 1411.96,439.26 1413.11,439.52 1414.27,439.78 1415.42,440.04 1416.57,440.30 1417.73,440.56 1418.88,440.82 1420.03,441.08 1421.19,441.35 1422.34,441.61 1423.50,441.87 1424.65,442.14 1425.80,442.40 1426.96,442.66 1428.11,442.93 1429.26,443.19 1430.42,443.46 1431.57,443.72 1432.72,443.99 1433.88,444.25 1435.03,444.52 1436.19,444.78 1437.34,445.05 1438.49,445.32 1439.65,445.59 1440.80,445.85 1441.95,446.12 1443.11,446.39 1444.26,446.66 1445.41,446.93 1446.57,447.19 1447.72,447.46 1448.88,447.73 1450.03,448.00 1451.18,448.27 1452.34,448.54 1453.49,448.81 1454.64,449.08 1455.80,449.35 1456.95,449.63 1458.10,449.90 1459.26,450.17 1460.41,450.44 1461.57,450.71 1462.72,450.99 1463.87,451.26 1465.03,451.53 1466.18,451.81 1467.33,452.08 1468.49,452.35 1469.64,452.63 1470.80,452.90 1471.95,453.18 1473.10,453.45 1474.26,453.72 1475.41,454.00 1476.56,454.28 1477.72,454.55 1478.87,454.83 1480.02,455.10 1481.18,455.38 1482.33,455.66 1483.49,455.93 1484.64,456.21 1485.79,456.49 1486.95,456.76 1488.10,457.04 1489.25,457.32 1490.41,457.60 1491.56,457.88 1492.71,458.15 1493.87,458.43 1495.02,458.71 1496.18,458.99 1497.33,459.27 1498.48,459.55 1499.64,459.83 1500.79,460.11 1501.94,460.39 1503.10,460.67 1504.25,460.95 1505.40,461.23 1506.56,461.51 1507.71,461.79 1508.87,462.07 1510.02,462.35 1511.17,462.64 1512.33,462.92 1513.48,463.20 1514.63,463.48 1515.79,463.76 1516.94,464.05 1518.09,464.33 1519.25,464.61 1520.40,464.89 1521.56,465.18 1522.71,465.46 1523.86,465.74 1525.02,466.03 1526.17,466.31 1527.32,466.59 1528.48,466.88 1529.63,467.16 1530.78,467.45 1531.94,467.73 1533.09,468.01 1534.25,468.30 1535.40,468.58 1536.55,468.87 1537.71,469.15 1538.86,469.44 1540.01,469.72 1541.17,470.01 1542.32,470.30 1543.47,470.58 1544.63,470.87 1545.78,471.15 1546.94,471.44 1548.09,471.73 1549.24,472.01 1550.40,472.30 1551.55,472.59 1552.70,472.87 1553.86,473.16 1555.01,473.45 1556.17,473.73 1557.32,474.02 1558.47,474.31 1559.63,474.60 1560.78,474.88 1561.93,475.17 1563.09,475.46 1564.24,475.75 1565.39,476.04 1566.55,476.32 1567.70,476.61 1568.86,476.90 1570.01,477.19 1571.16,477.48 1572.32,477.77 1573.47,478.06 1574.62,478.34 1575.78,478.63 1576.93,478.92 1578.08,479.21 1579.24,479.50 1580.39,479.79 1581.55,480.08 1582.70,480.37 1583.85,480.66 1585.01,480.95 1586.16,481.24 1587.31,481.53 1588.47,481.82 1589.62,482.11 1590.77,482.40 1591.93,482.69 1593.08,482.98 1594.24,483.27 1595.39,483.56 1596.54,483.85 1597.70,484.14 1598.85,484.43 1600.00,484.72 1601.16,485.02 1602.31,485.31 1603.46,485.60 1604.62,485.89 1605.77,486.18 1606.93,486.47 1608.08,486.76 1609.23,487.05 1610.39,487.35 1611.54,487.64 1612.69,487.93 1613.85,488.22 1615.00,488.51 1616.15,488.81 1617.31,489.10 1618.46,489.39 1619.62,489.68 1620.77,489.97 1621.92,490.27 1623.08,490.56 1624.23,490.85 1625.38,491.14 1626.54,491.44 1627.69,491.73 1628.84,492.02 1630.00,492.31 1631.15,492.61 1632.31,492.90 1633.46,493.19 1634.61,493.48 1635.77,493.78 1636.92,494.07 1638.07,494.36 1639.23,494.66 1640.38,494.95 1641.54,495.24 1642.69,495.54 1643.84,495.83 1645.00,496.12 1646.15,496.42 1647.30,496.71 1648.46,497.00 1649.61,497.30 1650.76,497.59 1651.92,497.89 1653.07,498.18 1654.23,498.47 1655.38,498.77 1656.53,499.06 1657.69,499.35 1658.84,499.65 1659.99,499.94 1661.15,500.24 1662.30,500.53 1663.45,500.83 1664.61,501.12 1665.76,501.41 1666.92,501.71 1668.07,502.00 1669.22,502.30 1670.38,502.59 1671.53,502.89 1672.68,503.18 1673.84,503.47 1674.99,503.77 1676.14,504.06 1677.30,504.36 1678.45,504.65 1679.61,504.95 1680.76,505.24 1681.91,505.54 1683.07,505.83 1684.22,506.13 1685.37,506.42 1686.53,506.72 1687.68,507.01 1688.83,507.31 1689.99,507.60 1691.14,507.90 1692.30,508.19 1693.45,508.49 1694.60,508.78 1695.76,509.08 1696.91,509.37 1698.06,509.67 1699.22,509.96 1700.37,510.26 1701.52,510.55 1702.68,510.85 1703.83,511.15 1704.99,511.44 1706.14,511.74 1707.29,512.03 1708.45,512.33 1709.60,512.62 1710.75,512.92 1711.91,513.21 1713.06,513.51 1714.22,513.81 1715.37,514.10 1716.52,514.40 1717.68,514.69 1718.83,514.99 1719.98,515.28 1721.14,515.58 1722.29,515.88 1723.44,516.17 1724.60,516.47 1725.75,516.76 1726.91,517.06 1728.06,517.35 1729.21,517.65 1730.37,517.95 1731.52,518.24 1732.67,518.54 1733.83,518.83 1734.98,519.13 1736.13,519.43 1737.29,519.72 1738.44,520.02 1739.60,520.32 1740.75,520.61 1741.90,520.91 1743.06,521.20 1744.21,521.50 1745.36,521.80 1746.52,522.09 1747.67,522.39 1748.82,522.69 1749.98,522.98 1751.13,523.28 1752.29,523.57 1753.44,523.87 1754.59,524.17 1755.75,524.46 1756.90,524.76 1758.05,525.06 1759.21,525.35 1760.36,525.65 1761.51,525.95 1762.67,526.24 1763.82,526.54 1764.98,526.83 1766.13,527.13 1767.28,527.43 1768.44,527.72 1769.59,528.02 1770.74,528.32 1771.90,528.61 1773.05,528.91 1774.20,529.21 1775.36,529.50 1776.51,529.80 1777.67,530.10 1778.82,530.39 1779.97,530.69 1781.13,530.99 1782.28,531.28 1783.43,531.58 1784.59,531.88 1785.74,532.17 1786.89,532.47 1788.05,532.77 1789.20,533.06 1790.36,533.36 1791.51,533.66 1792.66,533.96 1793.82,534.25 1794.97,534.55 1796.12,534.85 1797.28,535.14 1798.43,535.44 1799.59,535.74 1800.74,536.03 1801.89,536.33 1803.05,536.63 1804.20,536.92 1805.35,537.22 1806.51,537.52 1807.66,537.82 1808.81,538.11 1809.97,538.41 1811.12,538.71 1812.28,539.00 1813.43,539.30 1814.58,539.60 1815.74,539.89 1816.89,540.19 1818.04,540.49 1819.20,540.79 1820.35,541.08 1821.50,541.38 1822.66,541.68 1823.81,541.97 1824.97,542.27 1826.12,542.57 1827.27,542.86 1828.43,543.16 1829.58,543.46 1830.73,543.76 1831.89,544.05 1833.04,544.35 1834.19,544.65 1835.35,544.94 1836.50,545.24 1837.66,545.54 1838.81,545.84 1839.96,546.13 1841.12,546.43 1842.27,546.73 1843.42,547.03 1844.58,547.32 1845.73,547.62 1846.88,547.92 1848.04,548.21 1849.19,548.51 1850.35,548.81 1851.50,549.11 1852.65,549.40 1853.81,549.70 1854.96,550.00 1856.11,550.29 1857.27,550.59 1858.42,550.89 1859.57,551.19 1860.73,551.48 1861.88,551.78 1863.04,552.08 1864.19,552.38 1865.34,552.67 1866.50,552.97 1867.65,553.27 1868.80,553.57 1869.96,553.86 1871.11,554.16 1872.26,554.46 1873.42,554.75 1874.57,555.05 1875.73,555.35 1876.88,555.65 1878.03,555.94 1879.19,556.24 1880.34,556.54 1881.49,556.84 1882.65,557.13 1883.80,557.43 1884.96,557.73 1886.11,558.03 1887.26,558.32 1888.42,558.62 1889.57,558.92 1890.72,559.22 1891.88,559.51 1893.03,559.81 1894.18,560.11 1895.34,560.41 1896.49,560.70 1897.65,561.00 1898.80,561.30 1899.95,561.60 1901.11,561.89 1902.26,562.19 1903.41,562.49 1904.57,562.78 1905.72,563.08 1906.87,563.38 1908.03,563.68 1909.18,563.97 1910.34,564.27 1911.49,564.57 1912.64,564.87 1913.80,565.16 1914.95,565.46 1916.10,565.76 1917.26,566.06 1918.41,566.35 1919.56,566.65 1920.72,566.95 1921.87,567.25 1923.03,567.54 1924.18,567.84 1925.33,568.14 1926.49,568.44 1927.64,568.73 1928.79,569.03 1929.95,569.33 1931.10,569.63 1932.25,569.92 1933.41,570.22 1934.56,570.52 1935.72,570.82 1936.87,571.12 1938.02,571.41 1939.18,571.71 1940.33,572.01 1941.48,572.31 1942.64,572.60 1943.79,572.90 1944.94,573.20 1946.10,573.50 1947.25,573.79 1948.41,574.09 1949.56,574.39 1950.71,574.69 1951.87,574.98 1953.02,575.28 1954.17,575.58 1955.33,575.88 1956.48,576.17 1957.63,576.47 1958.79,576.77 1959.94,577.07 1961.10,577.36 1962.25,577.66 1963.40,577.96 1964.56,578.26 1965.71,578.55 1966.86,578.85 1968.02,579.15 1969.17,579.45 1970.33,579.74 1971.48,580.04 1972.63,580.34 1973.79,580.64 1974.94,580.94 1976.09,581.23 1977.25,581.53 1978.40,581.83 1979.55,582.13 1980.71,582.42 1981.86,582.72 1983.02,583.02 1984.17,583.32 1985.32,583.61 1986.48,583.91 1987.63,584.21 1988.78,584.51 1989.94,584.80 1991.09,585.10 1992.24,585.40 1993.40,585.70 1994.55,586.00 1995.71,586.29 1996.86,586.59 1998.01,586.89 1999.17,587.19 2000.32,587.48" fill="none" stroke="#fff" stroke-width="14" stroke-linejoin="round"/><polyline points="271.00,178.12 272.15,178.42 273.31,178.72 274.46,179.02 275.61,179.31 276.77,179.61 277.92,179.91 279.08,180.21 280.23,180.50 281.38,180.80 282.54,181.10 283.69,181.40 284.84,181.70 286.00,181.99 287.15,182.29 288.30,182.59 289.46,182.89 290.61,183.18 291.77,183.48 292.92,183.78 294.07,184.08 295.23,184.37 296.38,184.67 297.53,184.97 298.69,185.27 299.84,185.57 300.99,185.86 302.15,186.16 303.30,186.46 304.46,186.76 305.61,187.05 306.76,187.35 307.92,187.65 309.07,187.95 310.22,188.24 311.38,188.54 312.53,188.84 313.69,189.14 314.84,189.44 315.99,189.73 317.15,190.03 318.30,190.33 319.45,190.63 320.61,190.92 321.76,191.22 322.91,191.52 324.07,191.82 325.22,192.11 326.38,192.41 327.53,192.71 328.68,193.01 329.84,193.31 330.99,193.60 332.14,193.90 333.30,194.20 334.45,194.50 335.60,194.79 336.76,195.09 337.91,195.39 339.07,195.69 340.22,195.98 341.37,196.28 342.53,196.58 343.68,196.88 344.83,197.17 345.99,197.47 347.14,197.77 348.29,198.07 349.45,198.37 350.60,198.66 351.76,198.96 352.91,199.26 354.06,199.56 355.22,199.85 356.37,200.15 357.52,200.45 358.68,200.75 359.83,201.04 360.98,201.34 362.14,201.64 363.29,201.94 364.45,202.23 365.60,202.53 366.75,202.83 367.91,203.13 369.06,203.43 370.21,203.72 371.37,204.02 372.52,204.32 373.67,204.62 374.83,204.91 375.98,205.21 377.14,205.51 378.29,205.81 379.44,206.10 380.60,206.40 381.75,206.70 382.90,207.00 384.06,207.29 385.21,207.59 386.36,207.89 387.52,208.19 388.67,208.48 389.83,208.78 390.98,209.08 392.13,209.38 393.29,209.67 394.44,209.97 395.59,210.27 396.75,210.57 397.90,210.87 399.06,211.16 400.21,211.46 401.36,211.76 402.52,212.06 403.67,212.35 404.82,212.65 405.98,212.95 407.13,213.25 408.28,213.54 409.44,213.84 410.59,214.14 411.75,214.44 412.90,214.73 414.05,215.03 415.21,215.33 416.36,215.63 417.51,215.92 418.67,216.22 419.82,216.52 420.97,216.82 422.13,217.11 423.28,217.41 424.44,217.71 425.59,218.01 426.74,218.30 427.90,218.60 429.05,218.90 430.20,219.20 431.36,219.49 432.51,219.79 433.66,220.09 434.82,220.39 435.97,220.68 437.13,220.98 438.28,221.28 439.43,221.58 440.59,221.87 441.74,222.17 442.89,222.47 444.05,222.77 445.20,223.06 446.35,223.36 447.51,223.66 448.66,223.96 449.82,224.25 450.97,224.55 452.12,224.85 453.28,225.15 454.43,225.44 455.58,225.74 456.74,226.04 457.89,226.34 459.04,226.63 460.20,226.93 461.35,227.23 462.51,227.53 463.66,227.82 464.81,228.12 465.97,228.42 467.12,228.72 468.27,229.01 469.43,229.31 470.58,229.61 471.73,229.90 472.89,230.20 474.04,230.50 475.20,230.80 476.35,231.09 477.50,231.39 478.66,231.69 479.81,231.99 480.96,232.28 482.12,232.58 483.27,232.88 484.43,233.18 485.58,233.47 486.73,233.77 487.89,234.07 489.04,234.37 490.19,234.66 491.35,234.96 492.50,235.26 493.65,235.55 494.81,235.85 495.96,236.15 497.12,236.45 498.27,236.74 499.42,237.04 500.58,237.34 501.73,237.64 502.88,237.93 504.04,238.23 505.19,238.53 506.34,238.82 507.50,239.12 508.65,239.42 509.81,239.72 510.96,240.01 512.11,240.31 513.27,240.61 514.42,240.90 515.57,241.20 516.73,241.50 517.88,241.80 519.03,242.09 520.19,242.39 521.34,242.69 522.50,242.98 523.65,243.28 524.80,243.58 525.96,243.88 527.11,244.17 528.26,244.47 529.42,244.77 530.57,245.06 531.72,245.36 532.88,245.66 534.03,245.96 535.19,246.25 536.34,246.55 537.49,246.85 538.65,247.14 539.80,247.44 540.95,247.74 542.11,248.03 543.26,248.33 544.41,248.63 545.57,248.93 546.72,249.22 547.88,249.52 549.03,249.82 550.18,250.11 551.34,250.41 552.49,250.71 553.64,251.00 554.80,251.30 555.95,251.60 557.10,251.89 558.26,252.19 559.41,252.49 560.57,252.79 561.72,253.08 562.87,253.38 564.03,253.68 565.18,253.97 566.33,254.27 567.49,254.57 568.64,254.86 569.80,255.16 570.95,255.46 572.10,255.75 573.26,256.05 574.41,256.35 575.56,256.64 576.72,256.94 577.87,257.24 579.02,257.53 580.18,257.83 581.33,258.13 582.49,258.42 583.64,258.72 584.79,259.02 585.95,259.31 587.10,259.61 588.25,259.91 589.41,260.20 590.56,260.50 591.71,260.80 592.87,261.09 594.02,261.39 595.18,261.68 596.33,261.98 597.48,262.28 598.64,262.57 599.79,262.87 600.94,263.17 602.10,263.46 603.25,263.76 604.40,264.06 605.56,264.35 606.71,264.65 607.87,264.94 609.02,265.24 610.17,265.54 611.33,265.83 612.48,266.13 613.63,266.43 614.79,266.72 615.94,267.02 617.09,267.31 618.25,267.61 619.40,267.91 620.56,268.20 621.71,268.50 622.86,268.79 624.02,269.09 625.17,269.39 626.32,269.68 627.48,269.98 628.63,270.27 629.78,270.57 630.94,270.86 632.09,271.16 633.25,271.46 634.40,271.75 635.55,272.05 636.71,272.34 637.86,272.64 639.01,272.93 640.17,273.23 641.32,273.53 642.48,273.82 643.63,274.12 644.78,274.41 645.94,274.71 647.09,275.00 648.24,275.30 649.40,275.59 650.55,275.89 651.70,276.19 652.86,276.48 654.01,276.78 655.17,277.07 656.32,277.37 657.47,277.66 658.63,277.96 659.78,278.25 660.93,278.55 662.09,278.84 663.24,279.14 664.39,279.43 665.55,279.73 666.70,280.02 667.86,280.32 669.01,280.61 670.16,280.91 671.32,281.20 672.47,281.50 673.62,281.79 674.78,282.09 675.93,282.38 677.08,282.68 678.24,282.97 679.39,283.26 680.55,283.56 681.70,283.85 682.85,284.15 684.01,284.44 685.16,284.74 686.31,285.03 687.47,285.33 688.62,285.62 689.77,285.91 690.93,286.21 692.08,286.50 693.24,286.80 694.39,287.09 695.54,287.38 696.70,287.68 697.85,287.97 699.00,288.27 700.16,288.56 701.31,288.85 702.46,289.15 703.62,289.44 704.77,289.73 705.93,290.03 707.08,290.32 708.23,290.61 709.39,290.91 710.54,291.20 711.69,291.49 712.85,291.79 714.00,292.08 715.15,292.37 716.31,292.67 717.46,292.96 718.62,293.25 719.77,293.55 720.92,293.84 722.08,294.13 723.23,294.42 724.38,294.72 725.54,295.01 726.69,295.30 727.85,295.60 729.00,295.89 730.15,296.18 731.31,296.47 732.46,296.76 733.61,297.06 734.77,297.35 735.92,297.64 737.07,297.93 738.23,298.22 739.38,298.52 740.54,298.81 741.69,299.10 742.84,299.39 744.00,299.68 745.15,299.97 746.30,300.27 747.46,300.56 748.61,300.85 749.76,301.14 750.92,301.43 752.07,301.72 753.23,302.01 754.38,302.30 755.53,302.59 756.69,302.89 757.84,303.18 758.99,303.47 760.15,303.76 761.30,304.05 762.45,304.34 763.61,304.63 764.76,304.92 765.92,305.21 767.07,305.50 768.22,305.79 769.38,306.08 770.53,306.37 771.68,306.66 772.84,306.95 773.99,307.24 775.14,307.52 776.30,307.81 777.45,308.10 778.61,308.39 779.76,308.68 780.91,308.97 782.07,309.26 783.22,309.55 784.37,309.84 785.53,310.12 786.68,310.41 787.83,310.70 788.99,310.99 790.14,311.28 791.30,311.56 792.45,311.85 793.60,312.14 794.76,312.43 795.91,312.71 797.06,313.00 798.22,313.29 799.37,313.57 800.52,313.86 801.68,314.15 802.83,314.44 803.99,314.72 805.14,315.01 806.29,315.29 807.45,315.58 808.60,315.87 809.75,316.15 810.91,316.44 812.06,316.72 813.22,317.01 814.37,317.29 815.52,317.58 816.68,317.86 817.83,318.15 818.98,318.43 820.14,318.72 821.29,319.00 822.44,319.29 823.60,319.57 824.75,319.86 825.91,320.14 827.06,320.42 828.21,320.71 829.37,320.99 830.52,321.27 831.67,321.56 832.83,321.84 833.98,322.12 835.13,322.40 836.29,322.69 837.44,322.97 838.60,323.25 839.75,323.53 840.90,323.81 842.06,324.10 843.21,324.38 844.36,324.66 845.52,324.94 846.67,325.22 847.82,325.50 848.98,325.78 850.13,326.06 851.29,326.34 852.44,326.62 853.59,326.90 854.75,327.18 855.90,327.46 857.05,327.74 858.21,328.02 859.36,328.30 860.51,328.57 861.67,328.85 862.82,329.13 863.98,329.41 865.13,329.69 866.28,329.96 867.44,330.24 868.59,330.52 869.74,330.80 870.90,331.07 872.05,331.35 873.20,331.62 874.36,331.90 875.51,332.18 876.67,332.45 877.82,332.73 878.97,333.00 880.13,333.28 881.28,333.55 882.43,333.83 883.59,334.10 884.74,334.37 885.89,334.65 887.05,334.92 888.20,335.19 889.36,335.47 890.51,335.74 891.66,336.01 892.82,336.28 893.97,336.56 895.12,336.83 896.28,337.10 897.43,337.37 898.59,337.64 899.74,337.91 900.89,338.18 902.05,338.45 903.20,338.72 904.35,338.99 905.51,339.26 906.66,339.53 907.81,339.80 908.97,340.07 910.12,340.33 911.28,340.60 912.43,340.87 913.58,341.14 914.74,341.40 915.89,341.67 917.04,341.94 918.20,342.20 919.35,342.47 920.50,342.73 921.66,343.00 922.81,343.26 923.97,343.53 925.12,343.79 926.27,344.06 927.43,344.32 928.58,344.58 929.73,344.85 930.89,345.11 932.04,345.37 933.19,345.63 934.35,345.90 935.50,346.16 936.66,346.42 937.81,346.68 938.96,346.94 940.12,347.20 941.27,347.46 942.42,347.72 943.58,347.98 944.73,348.24 945.88,348.50 947.04,348.75 948.19,349.01 949.35,349.27 950.50,349.53 951.65,349.78 952.81,350.04 953.96,350.30 955.11,350.55 956.27,350.81 957.42,351.06 958.57,351.32 959.73,351.57 960.88,351.82 962.04,352.08 963.19,352.33 964.34,352.58 965.50,352.84 966.65,353.09 967.80,353.34 968.96,353.59 970.11,353.84 971.27,354.09 972.42,354.34 973.57,354.59 974.73,354.84 975.88,355.09 977.03,355.34 978.19,355.59 979.34,355.84 980.49,356.09 981.65,356.33 982.80,356.58 983.96,356.83 985.11,357.07 986.26,357.32 987.42,357.56 988.57,357.81 989.72,358.05 990.88,358.30 992.03,358.54 993.18,358.79 994.34,359.03 995.49,359.27 996.65,359.51 997.80,359.76 998.95,360.00 1000.11,360.24 1001.26,360.48 1002.41,360.72 1003.57,360.96 1004.72,361.20 1005.87,361.44 1007.03,361.68 1008.18,361.92 1009.34,362.15 1010.49,362.39 1011.64,362.63 1012.80,362.87 1013.95,363.10 1015.10,363.34 1016.26,363.57 1017.41,363.81 1018.56,364.05 1019.72,364.28 1020.87,364.51 1022.03,364.75 1023.18,364.98 1024.33,365.21 1025.49,365.45 1026.64,365.68 1027.79,365.91 1028.95,366.14 1030.10,366.37 1031.25,366.60 1032.41,366.84 1033.56,367.07 1034.72,367.29 1035.87,367.52 1037.02,367.75 1038.18,367.98 1039.33,368.21 1040.48,368.44 1041.64,368.67 1042.79,368.89 1043.94,369.12 1045.10,369.35 1046.25,369.57 1047.41,369.80 1048.56,370.02 1049.71,370.25 1050.87,370.47 1052.02,370.70 1053.17,370.92 1054.33,371.14 1055.48,371.37 1056.64,371.59 1057.79,371.81 1058.94,372.03 1060.10,372.25 1061.25,372.48 1062.40,372.70 1063.56,372.92 1064.71,373.14 1065.86,373.36 1067.02,373.58 1068.17,373.80 1069.33,374.02 1070.48,374.23 1071.63,374.45 1072.79,374.67 1073.94,374.89 1075.09,375.10 1076.25,375.32 1077.40,375.54 1078.55,375.75 1079.71,375.97 1080.86,376.19 1082.02,376.40 1083.17,376.62 1084.32,376.83 1085.48,377.05 1086.63,377.26 1087.78,377.47 1088.94,377.69 1090.09,377.90 1091.24,378.12 1092.40,378.33 1093.55,378.54 1094.71,378.75 1095.86,378.96 1097.01,379.18 1098.17,379.39 1099.32,379.60 1100.47,379.81 1101.63,380.02 1102.78,380.23 1103.93,380.44 1105.09,380.65 1106.24,380.86 1107.40,381.07 1108.55,381.28 1109.70,381.49 1110.86,381.70 1112.01,381.91 1113.16,382.11 1114.32,382.32 1115.47,382.53 1116.62,382.74 1117.78,382.95 1118.93,383.15 1120.09,383.36 1121.24,383.57 1122.39,383.77 1123.55,383.98 1124.70,384.19 1125.85,384.39 1127.01,384.60 1128.16,384.80 1129.31,385.01 1130.47,385.21 1131.62,385.42 1132.78,385.63 1133.93,385.83 1135.08,386.03 1136.24,386.24 1137.39,386.44 1138.54,386.65 1139.70,386.85 1140.85,387.06 1142.01,387.26 1143.16,387.46 1144.31,387.67 1145.47,387.87 1146.62,388.08 1147.77,388.28 1148.93,388.48 1150.08,388.69 1151.23,388.89 1152.39,389.09 1153.54,389.29 1154.70,389.50 1155.85,389.70 1157.00,389.90 1158.16,390.10 1159.31,390.31 1160.46,390.51 1161.62,390.71 1162.77,390.91 1163.92,391.12 1165.08,391.32 1166.23,391.52 1167.39,391.72 1168.54,391.93 1169.69,392.13 1170.85,392.33 1172.00,392.53 1173.15,392.73 1174.31,392.94 1175.46,393.14 1176.61,393.34 1177.77,393.54 1178.92,393.74 1180.08,393.95 1181.23,394.15 1182.38,394.35 1183.54,394.55 1184.69,394.76 1185.84,394.96 1187.00,395.16 1188.15,395.36 1189.30,395.56 1190.46,395.77 1191.61,395.97 1192.77,396.17 1193.92,396.37 1195.07,396.58 1196.23,396.78 1197.38,396.98 1198.53,397.18 1199.69,397.39 1200.84,397.59 1201.99,397.79 1203.15,398.00 1204.30,398.20 1205.46,398.40 1206.61,398.61 1207.76,398.81 1208.92,399.01 1210.07,399.22 1211.22,399.42 1212.38,399.63 1213.53,399.83 1214.68,400.03 1215.84,400.24 1216.99,400.44 1218.15,400.65 1219.30,400.85 1220.45,401.06 1221.61,401.26 1222.76,401.47 1223.91,401.67 1225.07,401.88 1226.22,402.09 1227.38,402.29 1228.53,402.50 1229.68,402.70 1230.84,402.91 1231.99,403.12 1233.14,403.32 1234.30,403.53 1235.45,403.74 1236.60,403.95 1237.76,404.15 1238.91,404.36 1240.07,404.57 1241.22,404.78 1242.37,404.99 1243.53,405.20 1244.68,405.41 1245.83,405.62 1246.99,405.82 1248.14,406.03 1249.29,406.24 1250.45,406.46 1251.60,406.67 1252.76,406.88 1253.91,407.09 1255.06,407.30 1256.22,407.51 1257.37,407.72 1258.52,407.93 1259.68,408.15 1260.83,408.36 1261.98,408.57 1263.14,408.79 1264.29,409.00 1265.45,409.21 1266.60,409.43 1267.75,409.64 1268.91,409.86 1270.06,410.07 1271.21,410.29 1272.37,410.50 1273.52,410.72 1274.67,410.94 1275.83,411.15 1276.98,411.37 1278.14,411.59 1279.29,411.80 1280.44,412.02 1281.60,412.24 1282.75,412.46 1283.90,412.68 1285.06,412.90 1286.21,413.12 1287.36,413.34 1288.52,413.56 1289.67,413.78 1290.83,414.00 1291.98,414.22 1293.13,414.44 1294.29,414.66 1295.44,414.88 1296.59,415.11 1297.75,415.33 1298.90,415.55 1300.05,415.78 1301.21,416.00 1302.36,416.22 1303.52,416.45 1304.67,416.67 1305.82,416.90 1306.98,417.13 1308.13,417.35 1309.28,417.58 1310.44,417.80 1311.59,418.03 1312.75,418.26 1313.90,418.49 1315.05,418.72 1316.21,418.94 1317.36,419.17 1318.51,419.40 1319.67,419.63 1320.82,419.86 1321.97,420.09 1323.13,420.33 1324.28,420.56 1325.44,420.79 1326.59,421.02 1327.74,421.25 1328.90,421.49 1330.05,421.72 1331.20,421.95 1332.36,422.19 1333.51,422.42 1334.66,422.66 1335.82,422.89 1336.97,423.13 1338.13,423.36 1339.28,423.60 1340.43,423.84 1341.59,424.07 1342.74,424.31 1343.89,424.55 1345.05,424.79 1346.20,425.03 1347.35,425.27 1348.51,425.51 1349.66,425.75 1350.82,425.99 1351.97,426.23 1353.12,426.47 1354.28,426.71 1355.43,426.95 1356.58,427.19 1357.74,427.44 1358.89,427.68 1360.04,427.92 1361.20,428.17 1362.35,428.41 1363.51,428.65 1364.66,428.90 1365.81,429.14 1366.97,429.39 1368.12,429.64 1369.27,429.88 1370.43,430.13 1371.58,430.38 1372.73,430.62 1373.89,430.87 1375.04,431.12 1376.20,431.37 1377.35,431.62 1378.50,431.87 1379.66,432.12 1380.81,432.37 1381.96,432.62 1383.12,432.87 1384.27,433.12 1385.43,433.37 1386.58,433.62 1387.73,433.88 1388.89,434.13 1390.04,434.38 1391.19,434.64 1392.35,434.89 1393.50,435.14 1394.65,435.40 1395.81,435.65 1396.96,435.91 1398.12,436.16 1399.27,436.42 1400.42,436.68 1401.58,436.93 1402.73,437.19 1403.88,437.45 1405.04,437.70 1406.19,437.96 1407.34,438.22 1408.50,438.48 1409.65,438.74 1410.81,439.00 1411.96,439.26 1413.11,439.52 1414.27,439.78 1415.42,440.04 1416.57,440.30 1417.73,440.56 1418.88,440.82 1420.03,441.08 1421.19,441.35 1422.34,441.61 1423.50,441.87 1424.65,442.14 1425.80,442.40 1426.96,442.66 1428.11,442.93 1429.26,443.19 1430.42,443.46 1431.57,443.72 1432.72,443.99 1433.88,444.25 1435.03,444.52 1436.19,444.78 1437.34,445.05 1438.49,445.32 1439.65,445.59 1440.80,445.85 1441.95,446.12 1443.11,446.39 1444.26,446.66 1445.41,446.93 1446.57,447.19 1447.72,447.46 1448.88,447.73 1450.03,448.00 1451.18,448.27 1452.34,448.54 1453.49,448.81 1454.64,449.08 1455.80,449.35 1456.95,449.63 1458.10,449.90 1459.26,450.17 1460.41,450.44 1461.57,450.71 1462.72,450.99 1463.87,451.26 1465.03,451.53 1466.18,451.81 1467.33,452.08 1468.49,452.35 1469.64,452.63 1470.80,452.90 1471.95,453.18 1473.10,453.45 1474.26,453.72 1475.41,454.00 1476.56,454.28 1477.72,454.55 1478.87,454.83 1480.02,455.10 1481.18,455.38 1482.33,455.66 1483.49,455.93 1484.64,456.21 1485.79,456.49 1486.95,456.76 1488.10,457.04 1489.25,457.32 1490.41,457.60 1491.56,457.88 1492.71,458.15 1493.87,458.43 1495.02,458.71 1496.18,458.99 1497.33,459.27 1498.48,459.55 1499.64,459.83 1500.79,460.11 1501.94,460.39 1503.10,460.67 1504.25,460.95 1505.40,461.23 1506.56,461.51 1507.71,461.79 1508.87,462.07 1510.02,462.35 1511.17,462.64 1512.33,462.92 1513.48,463.20 1514.63,463.48 1515.79,463.76 1516.94,464.05 1518.09,464.33 1519.25,464.61 1520.40,464.89 1521.56,465.18 1522.71,465.46 1523.86,465.74 1525.02,466.03 1526.17,466.31 1527.32,466.59 1528.48,466.88 1529.63,467.16 1530.78,467.45 1531.94,467.73 1533.09,468.01 1534.25,468.30 1535.40,468.58 1536.55,468.87 1537.71,469.15 1538.86,469.44 1540.01,469.72 1541.17,470.01 1542.32,470.30 1543.47,470.58 1544.63,470.87 1545.78,471.15 1546.94,471.44 1548.09,471.73 1549.24,472.01 1550.40,472.30 1551.55,472.59 1552.70,472.87 1553.86,473.16 1555.01,473.45 1556.17,473.73 1557.32,474.02 1558.47,474.31 1559.63,474.60 1560.78,474.88 1561.93,475.17 1563.09,475.46 1564.24,475.75 1565.39,476.04 1566.55,476.32 1567.70,476.61 1568.86,476.90 1570.01,477.19 1571.16,477.48 1572.32,477.77 1573.47,478.06 1574.62,478.34 1575.78,478.63 1576.93,478.92 1578.08,479.21 1579.24,479.50 1580.39,479.79 1581.55,480.08 1582.70,480.37 1583.85,480.66 1585.01,480.95 1586.16,481.24 1587.31,481.53 1588.47,481.82 1589.62,482.11 1590.77,482.40 1591.93,482.69 1593.08,482.98 1594.24,483.27 1595.39,483.56 1596.54,483.85 1597.70,484.14 1598.85,484.43 1600.00,484.72 1601.16,485.02 1602.31,485.31 1603.46,485.60 1604.62,485.89 1605.77,486.18 1606.93,486.47 1608.08,486.76 1609.23,487.05 1610.39,487.35 1611.54,487.64 1612.69,487.93 1613.85,488.22 1615.00,488.51 1616.15,488.81 1617.31,489.10 1618.46,489.39 1619.62,489.68 1620.77,489.97 1621.92,490.27 1623.08,490.56 1624.23,490.85 1625.38,491.14 1626.54,491.44 1627.69,491.73 1628.84,492.02 1630.00,492.31 1631.15,492.61 1632.31,492.90 1633.46,493.19 1634.61,493.48 1635.77,493.78 1636.92,494.07 1638.07,494.36 1639.23,494.66 1640.38,494.95 1641.54,495.24 1642.69,495.54 1643.84,495.83 1645.00,496.12 1646.15,496.42 1647.30,496.71 1648.46,497.00 1649.61,497.30 1650.76,497.59 1651.92,497.89 1653.07,498.18 1654.23,498.47 1655.38,498.77 1656.53,499.06 1657.69,499.35 1658.84,499.65 1659.99,499.94 1661.15,500.24 1662.30,500.53 1663.45,500.83 1664.61,501.12 1665.76,501.41 1666.92,501.71 1668.07,502.00 1669.22,502.30 1670.38,502.59 1671.53,502.89 1672.68,503.18 1673.84,503.47 1674.99,503.77 1676.14,504.06 1677.30,504.36 1678.45,504.65 1679.61,504.95 1680.76,505.24 1681.91,505.54 1683.07,505.83 1684.22,506.13 1685.37,506.42 1686.53,506.72 1687.68,507.01 1688.83,507.31 1689.99,507.60 1691.14,507.90 1692.30,508.19 1693.45,508.49 1694.60,508.78 1695.76,509.08 1696.91,509.37 1698.06,509.67 1699.22,509.96 1700.37,510.26 1701.52,510.55 1702.68,510.85 1703.83,511.15 1704.99,511.44 1706.14,511.74 1707.29,512.03 1708.45,512.33 1709.60,512.62 1710.75,512.92 1711.91,513.21 1713.06,513.51 1714.22,513.81 1715.37,514.10 1716.52,514.40 1717.68,514.69 1718.83,514.99 1719.98,515.28 1721.14,515.58 1722.29,515.88 1723.44,516.17 1724.60,516.47 1725.75,516.76 1726.91,517.06 1728.06,517.35 1729.21,517.65 1730.37,517.95 1731.52,518.24 1732.67,518.54 1733.83,518.83 1734.98,519.13 1736.13,519.43 1737.29,519.72 1738.44,520.02 1739.60,520.32 1740.75,520.61 1741.90,520.91 1743.06,521.20 1744.21,521.50 1745.36,521.80 1746.52,522.09 1747.67,522.39 1748.82,522.69 1749.98,522.98 1751.13,523.28 1752.29,523.57 1753.44,523.87 1754.59,524.17 1755.75,524.46 1756.90,524.76 1758.05,525.06 1759.21,525.35 1760.36,525.65 1761.51,525.95 1762.67,526.24 1763.82,526.54 1764.98,526.83 1766.13,527.13 1767.28,527.43 1768.44,527.72 1769.59,528.02 1770.74,528.32 1771.90,528.61 1773.05,528.91 1774.20,529.21 1775.36,529.50 1776.51,529.80 1777.67,530.10 1778.82,530.39 1779.97,530.69 1781.13,530.99 1782.28,531.28 1783.43,531.58 1784.59,531.88 1785.74,532.17 1786.89,532.47 1788.05,532.77 1789.20,533.06 1790.36,533.36 1791.51,533.66 1792.66,533.96 1793.82,534.25 1794.97,534.55 1796.12,534.85 1797.28,535.14 1798.43,535.44 1799.59,535.74 1800.74,536.03 1801.89,536.33 1803.05,536.63 1804.20,536.92 1805.35,537.22 1806.51,537.52 1807.66,537.82 1808.81,538.11 1809.97,538.41 1811.12,538.71 1812.28,539.00 1813.43,539.30 1814.58,539.60 1815.74,539.89 1816.89,540.19 1818.04,540.49 1819.20,540.79 1820.35,541.08 1821.50,541.38 1822.66,541.68 1823.81,541.97 1824.97,542.27 1826.12,542.57 1827.27,542.86 1828.43,543.16 1829.58,543.46 1830.73,543.76 1831.89,544.05 1833.04,544.35 1834.19,544.65 1835.35,544.94 1836.50,545.24 1837.66,545.54 1838.81,545.84 1839.96,546.13 1841.12,546.43 1842.27,546.73 1843.42,547.03 1844.58,547.32 1845.73,547.62 1846.88,547.92 1848.04,548.21 1849.19,548.51 1850.35,548.81 1851.50,549.11 1852.65,549.40 1853.81,549.70 1854.96,550.00 1856.11,550.29 1857.27,550.59 1858.42,550.89 1859.57,551.19 1860.73,551.48 1861.88,551.78 1863.04,552.08 1864.19,552.38 1865.34,552.67 1866.50,552.97 1867.65,553.27 1868.80,553.57 1869.96,553.86 1871.11,554.16 1872.26,554.46 1873.42,554.75 1874.57,555.05 1875.73,555.35 1876.88,555.65 1878.03,555.94 1879.19,556.24 1880.34,556.54 1881.49,556.84 1882.65,557.13 1883.80,557.43 1884.96,557.73 1886.11,558.03 1887.26,558.32 1888.42,558.62 1889.57,558.92 1890.72,559.22 1891.88,559.51 1893.03,559.81 1894.18,560.11 1895.34,560.41 1896.49,560.70 1897.65,561.00 1898.80,561.30 1899.95,561.60 1901.11,561.89 1902.26,562.19 1903.41,562.49 1904.57,562.78 1905.72,563.08 1906.87,563.38 1908.03,563.68 1909.18,563.97 1910.34,564.27 1911.49,564.57 1912.64,564.87 1913.80,565.16 1914.95,565.46 1916.10,565.76 1917.26,566.06 1918.41,566.35 1919.56,566.65 1920.72,566.95 1921.87,567.25 1923.03,567.54 1924.18,567.84 1925.33,568.14 1926.49,568.44 1927.64,568.73 1928.79,569.03 1929.95,569.33 1931.10,569.63 1932.25,569.92 1933.41,570.22 1934.56,570.52 1935.72,570.82 1936.87,571.12 1938.02,571.41 1939.18,571.71 1940.33,572.01 1941.48,572.31 1942.64,572.60 1943.79,572.90 1944.94,573.20 1946.10,573.50 1947.25,573.79 1948.41,574.09 1949.56,574.39 1950.71,574.69 1951.87,574.98 1953.02,575.28 1954.17,575.58 1955.33,575.88 1956.48,576.17 1957.63,576.47 1958.79,576.77 1959.94,577.07 1961.10,577.36 1962.25,577.66 1963.40,577.96 1964.56,578.26 1965.71,578.55 1966.86,578.85 1968.02,579.15 1969.17,579.45 1970.33,579.74 1971.48,580.04 1972.63,580.34 1973.79,580.64 1974.94,580.94 1976.09,581.23 1977.25,581.53 1978.40,581.83 1979.55,582.13 1980.71,582.42 1981.86,582.72 1983.02,583.02 1984.17,583.32 1985.32,583.61 1986.48,583.91 1987.63,584.21 1988.78,584.51 1989.94,584.80 1991.09,585.10 1992.24,585.40 1993.40,585.70 1994.55,586.00 1995.71,586.29 1996.86,586.59 1998.01,586.89 1999.17,587.19 2000.32,587.48" fill="none" stroke="#0072BD" stroke-width="7.6" stroke-linejoin="round"/><polyline points="271.00,1047.99 272.15,1047.97 273.31,1047.96 274.46,1047.94 275.61,1047.92 276.77,1047.91 277.92,1047.89 279.08,1047.88 280.23,1047.86 281.38,1047.85 282.54,1047.83 283.69,1047.81 284.84,1047.80 286.00,1047.78 287.15,1047.76 288.30,1047.75 289.46,1047.73 290.61,1047.71 291.77,1047.70 292.92,1047.68 294.07,1047.66 295.23,1047.65 296.38,1047.63 297.53,1047.61 298.69,1047.59 299.84,1047.58 300.99,1047.56 302.15,1047.54 303.30,1047.52 304.46,1047.51 305.61,1047.49 306.76,1047.47 307.92,1047.45 309.07,1047.43 310.22,1047.41 311.38,1047.40 312.53,1047.38 313.69,1047.36 314.84,1047.34 315.99,1047.32 317.15,1047.30 318.30,1047.28 319.45,1047.26 320.61,1047.24 321.76,1047.22 322.91,1047.20 324.07,1047.18 325.22,1047.16 326.38,1047.14 327.53,1047.12 328.68,1047.10 329.84,1047.08 330.99,1047.06 332.14,1047.04 333.30,1047.02 334.45,1047.00 335.60,1046.97 336.76,1046.95 337.91,1046.93 339.07,1046.91 340.22,1046.89 341.37,1046.87 342.53,1046.84 343.68,1046.82 344.83,1046.80 345.99,1046.78 347.14,1046.75 348.29,1046.73 349.45,1046.71 350.60,1046.69 351.76,1046.66 352.91,1046.64 354.06,1046.62 355.22,1046.59 356.37,1046.57 357.52,1046.54 358.68,1046.52 359.83,1046.50 360.98,1046.47 362.14,1046.45 363.29,1046.42 364.45,1046.40 365.60,1046.37 366.75,1046.35 367.91,1046.32 369.06,1046.30 370.21,1046.27 371.37,1046.25 372.52,1046.22 373.67,1046.19 374.83,1046.17 375.98,1046.14 377.14,1046.11 378.29,1046.09 379.44,1046.06 380.60,1046.03 381.75,1046.01 382.90,1045.98 384.06,1045.95 385.21,1045.92 386.36,1045.90 387.52,1045.87 388.67,1045.84 389.83,1045.81 390.98,1045.78 392.13,1045.75 393.29,1045.73 394.44,1045.70 395.59,1045.67 396.75,1045.64 397.90,1045.61 399.06,1045.58 400.21,1045.55 401.36,1045.52 402.52,1045.49 403.67,1045.46 404.82,1045.43 405.98,1045.40 407.13,1045.36 408.28,1045.33 409.44,1045.30 410.59,1045.27 411.75,1045.24 412.90,1045.21 414.05,1045.17 415.21,1045.14 416.36,1045.11 417.51,1045.08 418.67,1045.04 419.82,1045.01 420.97,1044.98 422.13,1044.94 423.28,1044.91 424.44,1044.87 425.59,1044.84 426.74,1044.81 427.90,1044.77 429.05,1044.74 430.20,1044.70 431.36,1044.67 432.51,1044.63 433.66,1044.59 434.82,1044.56 435.97,1044.52 437.13,1044.48 438.28,1044.45 439.43,1044.41 440.59,1044.37 441.74,1044.34 442.89,1044.30 444.05,1044.26 445.20,1044.22 446.35,1044.18 447.51,1044.15 448.66,1044.11 449.82,1044.07 450.97,1044.03 452.12,1043.99 453.28,1043.95 454.43,1043.91 455.58,1043.87 456.74,1043.83 457.89,1043.79 459.04,1043.75 460.20,1043.71 461.35,1043.66 462.51,1043.62 463.66,1043.58 464.81,1043.54 465.97,1043.50 467.12,1043.45 468.27,1043.41 469.43,1043.37 470.58,1043.32 471.73,1043.28 472.89,1043.24 474.04,1043.19 475.20,1043.15 476.35,1043.10 477.50,1043.06 478.66,1043.01 479.81,1042.97 480.96,1042.92 482.12,1042.87 483.27,1042.83 484.43,1042.78 485.58,1042.73 486.73,1042.69 487.89,1042.64 489.04,1042.59 490.19,1042.54 491.35,1042.49 492.50,1042.44 493.65,1042.39 494.81,1042.34 495.96,1042.29 497.12,1042.24 498.27,1042.19 499.42,1042.14 500.58,1042.09 501.73,1042.04 502.88,1041.99 504.04,1041.94 505.19,1041.89 506.34,1041.83 507.50,1041.78 508.65,1041.73 509.81,1041.67 510.96,1041.62 512.11,1041.56 513.27,1041.51 514.42,1041.46 515.57,1041.40 516.73,1041.34 517.88,1041.29 519.03,1041.23 520.19,1041.18 521.34,1041.12 522.50,1041.06 523.65,1041.00 524.80,1040.95 525.96,1040.89 527.11,1040.83 528.26,1040.77 529.42,1040.71 530.57,1040.65 531.72,1040.59 532.88,1040.53 534.03,1040.47 535.19,1040.41 536.34,1040.35 537.49,1040.28 538.65,1040.22 539.80,1040.16 540.95,1040.10 542.11,1040.03 543.26,1039.97 544.41,1039.90 545.57,1039.84 546.72,1039.77 547.88,1039.71 549.03,1039.64 550.18,1039.58 551.34,1039.51 552.49,1039.44 553.64,1039.37 554.80,1039.31 555.95,1039.24 557.10,1039.17 558.26,1039.10 559.41,1039.03 560.57,1038.96 561.72,1038.89 562.87,1038.82 564.03,1038.75 565.18,1038.68 566.33,1038.60 567.49,1038.53 568.64,1038.46 569.80,1038.39 570.95,1038.31 572.10,1038.24 573.26,1038.16 574.41,1038.09 575.56,1038.01 576.72,1037.94 577.87,1037.86 579.02,1037.78 580.18,1037.70 581.33,1037.63 582.49,1037.55 583.64,1037.47 584.79,1037.39 585.95,1037.31 587.10,1037.23 588.25,1037.15 589.41,1037.07 590.56,1036.98 591.71,1036.90 592.87,1036.82 594.02,1036.74 595.18,1036.65 596.33,1036.57 597.48,1036.48 598.64,1036.40 599.79,1036.31 600.94,1036.23 602.10,1036.14 603.25,1036.05 604.40,1035.96 605.56,1035.87 606.71,1035.79 607.87,1035.70 609.02,1035.61 610.17,1035.51 611.33,1035.42 612.48,1035.33 613.63,1035.24 614.79,1035.15 615.94,1035.05 617.09,1034.96 618.25,1034.86 619.40,1034.77 620.56,1034.67 621.71,1034.58 622.86,1034.48 624.02,1034.38 625.17,1034.29 626.32,1034.19 627.48,1034.09 628.63,1033.99 629.78,1033.89 630.94,1033.79 632.09,1033.69 633.25,1033.58 634.40,1033.48 635.55,1033.38 636.71,1033.27 637.86,1033.17 639.01,1033.06 640.17,1032.96 641.32,1032.85 642.48,1032.74 643.63,1032.64 644.78,1032.53 645.94,1032.42 647.09,1032.31 648.24,1032.20 649.40,1032.09 650.55,1031.98 651.70,1031.86 652.86,1031.75 654.01,1031.64 655.17,1031.52 656.32,1031.41 657.47,1031.29 658.63,1031.18 659.78,1031.06 660.93,1030.94 662.09,1030.82 663.24,1030.70 664.39,1030.59 665.55,1030.46 666.70,1030.34 667.86,1030.22 669.01,1030.10 670.16,1029.98 671.32,1029.85 672.47,1029.73 673.62,1029.60 674.78,1029.48 675.93,1029.35 677.08,1029.22 678.24,1029.09 679.39,1028.96 680.55,1028.83 681.70,1028.70 682.85,1028.57 684.01,1028.44 685.16,1028.31 686.31,1028.17 687.47,1028.04 688.62,1027.90 689.77,1027.77 690.93,1027.63 692.08,1027.49 693.24,1027.35 694.39,1027.21 695.54,1027.07 696.70,1026.93 697.85,1026.79 699.00,1026.65 700.16,1026.51 701.31,1026.36 702.46,1026.22 703.62,1026.07 704.77,1025.93 705.93,1025.78 707.08,1025.63 708.23,1025.48 709.39,1025.33 710.54,1025.18 711.69,1025.03 712.85,1024.88 714.00,1024.72 715.15,1024.57 716.31,1024.41 717.46,1024.26 718.62,1024.10 719.77,1023.94 720.92,1023.78 722.08,1023.62 723.23,1023.46 724.38,1023.30 725.54,1023.14 726.69,1022.98 727.85,1022.81 729.00,1022.65 730.15,1022.48 731.31,1022.32 732.46,1022.15 733.61,1021.98 734.77,1021.81 735.92,1021.64 737.07,1021.47 738.23,1021.29 739.38,1021.12 740.54,1020.95 741.69,1020.77 742.84,1020.60 744.00,1020.42 745.15,1020.24 746.30,1020.06 747.46,1019.88 748.61,1019.70 749.76,1019.52 750.92,1019.33 752.07,1019.15 753.23,1018.97 754.38,1018.78 755.53,1018.59 756.69,1018.40 757.84,1018.21 758.99,1018.02 760.15,1017.83 761.30,1017.64 762.45,1017.45 763.61,1017.25 764.76,1017.06 765.92,1016.86 767.07,1016.66 768.22,1016.47 769.38,1016.27 770.53,1016.07 771.68,1015.86 772.84,1015.66 773.99,1015.46 775.14,1015.25 776.30,1015.05 777.45,1014.84 778.61,1014.63 779.76,1014.42 780.91,1014.21 782.07,1014.00 783.22,1013.79 784.37,1013.58 785.53,1013.36 786.68,1013.15 787.83,1012.93 788.99,1012.71 790.14,1012.49 791.30,1012.27 792.45,1012.05 793.60,1011.83 794.76,1011.61 795.91,1011.38 797.06,1011.16 798.22,1010.93 799.37,1010.70 800.52,1010.47 801.68,1010.24 802.83,1010.01 803.99,1009.78 805.14,1009.55 806.29,1009.31 807.45,1009.08 808.60,1008.84 809.75,1008.60 810.91,1008.36 812.06,1008.12 813.22,1007.88 814.37,1007.64 815.52,1007.39 816.68,1007.15 817.83,1006.90 818.98,1006.65 820.14,1006.41 821.29,1006.16 822.44,1005.91 823.60,1005.65 824.75,1005.40 825.91,1005.15 827.06,1004.89 828.21,1004.63 829.37,1004.38 830.52,1004.12 831.67,1003.86 832.83,1003.60 833.98,1003.33 835.13,1003.07 836.29,1002.80 837.44,1002.54 838.60,1002.27 839.75,1002.00 840.90,1001.73 842.06,1001.46 843.21,1001.19 844.36,1000.92 845.52,1000.64 846.67,1000.37 847.82,1000.09 848.98,999.81 850.13,999.53 851.29,999.25 852.44,998.97 853.59,998.69 854.75,998.41 855.90,998.12 857.05,997.84 858.21,997.55 859.36,997.26 860.51,996.97 861.67,996.68 862.82,996.39 863.98,996.10 865.13,995.80 866.28,995.51 867.44,995.21 868.59,994.91 869.74,994.62 870.90,994.32 872.05,994.02 873.20,993.71 874.36,993.41 875.51,993.11 876.67,992.80 877.82,992.50 878.97,992.19 880.13,991.88 881.28,991.57 882.43,991.26 883.59,990.95 884.74,990.64 885.89,990.32 887.05,990.01 888.20,989.69 889.36,989.38 890.51,989.06 891.66,988.74 892.82,988.42 893.97,988.10 895.12,987.78 896.28,987.45 897.43,987.13 898.59,986.80 899.74,986.48 900.89,986.15 902.05,985.82 903.20,985.49 904.35,985.16 905.51,984.83 906.66,984.50 907.81,984.17 908.97,983.84 910.12,983.50 911.28,983.17 912.43,982.83 913.58,982.49 914.74,982.16 915.89,981.82 917.04,981.48 918.20,981.14 919.35,980.80 920.50,980.45 921.66,980.11 922.81,979.77 923.97,979.42 925.12,979.08 926.27,978.73 927.43,978.39 928.58,978.04 929.73,977.69 930.89,977.34 932.04,976.99 933.19,976.64 934.35,976.29 935.50,975.94 936.66,975.59 937.81,975.24 938.96,974.88 940.12,974.53 941.27,974.17 942.42,973.82 943.58,973.46 944.73,973.11 945.88,972.75 947.04,972.39 948.19,972.04 949.35,971.68 950.50,971.32 951.65,970.96 952.81,970.60 953.96,970.24 955.11,969.89 956.27,969.53 957.42,969.16 958.57,968.80 959.73,968.44 960.88,968.08 962.04,967.72 963.19,967.36 964.34,967.00 965.50,966.64 966.65,966.27 967.80,965.91 968.96,965.55 970.11,965.19 971.27,964.82 972.42,964.46 973.57,964.10 974.73,963.73 975.88,963.37 977.03,963.01 978.19,962.65 979.34,962.28 980.49,961.92 981.65,961.56 982.80,961.20 983.96,960.84 985.11,960.47 986.26,960.11 987.42,959.75 988.57,959.39 989.72,959.03 990.88,958.67 992.03,958.31 993.18,957.95 994.34,957.59 995.49,957.23 996.65,956.87 997.80,956.51 998.95,956.15 1000.11,955.80 1001.26,955.44 1002.41,955.08 1003.57,954.73 1004.72,954.37 1005.87,954.02 1007.03,953.67 1008.18,953.31 1009.34,952.96 1010.49,952.61 1011.64,952.26 1012.80,951.91 1013.95,951.56 1015.10,951.21 1016.26,950.87 1017.41,950.52 1018.56,950.17 1019.72,949.83 1020.87,949.49 1022.03,949.14 1023.18,948.80 1024.33,948.46 1025.49,948.12 1026.64,947.78 1027.79,947.45 1028.95,947.11 1030.10,946.78 1031.25,946.44 1032.41,946.11 1033.56,945.78 1034.72,945.45 1035.87,945.12 1037.02,944.80 1038.18,944.47 1039.33,944.15 1040.48,943.83 1041.64,943.51 1042.79,943.19 1043.94,942.87 1045.10,942.55 1046.25,942.24 1047.41,941.93 1048.56,941.62 1049.71,941.31 1050.87,941.00 1052.02,940.69 1053.17,940.39 1054.33,940.09 1055.48,939.79 1056.64,939.49 1057.79,939.19 1058.94,938.90 1060.10,938.60 1061.25,938.31 1062.40,938.03 1063.56,937.74 1064.71,937.45 1065.86,937.17 1067.02,936.89 1068.17,936.61 1069.33,936.34 1070.48,936.06 1071.63,935.79 1072.79,935.52 1073.94,935.26 1075.09,934.99 1076.25,934.73 1077.40,934.47 1078.55,934.22 1079.71,933.96 1080.86,933.71 1082.02,933.46 1083.17,933.21 1084.32,932.97 1085.48,932.73 1086.63,932.49 1087.78,932.25 1088.94,932.02 1090.09,931.78 1091.24,931.56 1092.40,931.33 1093.55,931.11 1094.71,930.89 1095.86,930.67 1097.01,930.46 1098.17,930.24 1099.32,930.04 1100.47,929.83 1101.63,929.63 1102.78,929.43 1103.93,929.23 1105.09,929.04 1106.24,928.85 1107.40,928.66 1108.55,928.48 1109.70,928.29 1110.86,928.12 1112.01,927.94 1113.16,927.77 1114.32,927.60 1115.47,927.44 1116.62,927.28 1117.78,927.12 1118.93,926.96 1120.09,926.81 1121.24,926.66 1122.39,926.52 1123.55,926.38 1124.70,926.24 1125.85,926.11 1127.01,925.98 1128.16,925.85 1129.31,925.72 1130.47,925.60 1131.62,925.49 1132.78,925.38 1133.93,925.27 1135.08,925.16 1136.24,925.06 1137.39,924.96 1138.54,924.87 1139.70,924.78 1140.85,924.69 1142.01,924.61 1143.16,924.53 1144.31,924.46 1145.47,924.38 1146.62,924.32 1147.77,924.25 1148.93,924.20 1150.08,924.14 1151.23,924.09 1152.39,924.04 1153.54,924.00 1154.70,923.96 1155.85,923.93 1157.00,923.89 1158.16,923.87 1159.31,923.85 1160.46,923.83 1161.62,923.81 1162.77,923.80 1163.92,923.80 1165.08,923.80 1166.23,923.80 1167.39,923.81 1168.54,923.82 1169.69,923.83 1170.85,923.85 1172.00,923.88 1173.15,923.91 1174.31,923.94 1175.46,923.98 1176.61,924.02 1177.77,924.07 1178.92,924.12 1180.08,924.18 1181.23,924.24 1182.38,924.30 1183.54,924.37 1184.69,924.45 1185.84,924.53 1187.00,924.61 1188.15,924.70 1189.30,924.79 1190.46,924.89 1191.61,924.99 1192.77,925.10 1193.92,925.21 1195.07,925.33 1196.23,925.45 1197.38,925.58 1198.53,925.71 1199.69,925.84 1200.84,925.98 1201.99,926.13 1203.15,926.28 1204.30,926.44 1205.46,926.60 1206.61,926.76 1207.76,926.93 1208.92,927.11 1210.07,927.29 1211.22,927.48 1212.38,927.67 1213.53,927.86 1214.68,928.07 1215.84,928.27 1216.99,928.48 1218.15,928.70 1219.30,928.92 1220.45,929.15 1221.61,929.38 1222.76,929.62 1223.91,929.86 1225.07,930.11 1226.22,930.36 1227.38,930.62 1228.53,930.89 1229.68,931.16 1230.84,931.43 1231.99,931.71 1233.14,932.00 1234.30,932.29 1235.45,932.59 1236.60,932.89 1237.76,933.20 1238.91,933.51 1240.07,933.83 1241.22,934.15 1242.37,934.49 1243.53,934.82 1244.68,935.16 1245.83,935.51 1246.99,935.86 1248.14,936.22 1249.29,936.59 1250.45,936.96 1251.60,937.33 1252.76,937.71 1253.91,938.10 1255.06,938.49 1256.22,938.89 1257.37,939.30 1258.52,939.71 1259.68,940.13 1260.83,940.55 1261.98,940.98 1263.14,941.41 1264.29,941.85 1265.45,942.30 1266.60,942.75 1267.75,943.21 1268.91,943.68 1270.06,944.15 1271.21,944.63 1272.37,945.11 1273.52,945.60 1274.67,946.10 1275.83,946.60 1276.98,947.11 1278.14,947.63 1279.29,948.15 1280.44,948.67 1281.60,949.21 1282.75,949.75 1283.90,950.30 1285.06,950.85 1286.21,951.41 1287.36,951.98 1288.52,952.55 1289.67,953.13 1290.83,953.72 1291.98,954.31 1293.13,954.91 1294.29,955.51 1295.44,956.13 1296.59,956.75 1297.75,957.37 1298.90,958.01 1300.05,958.65 1301.21,959.29 1302.36,959.95 1303.52,960.61 1304.67,961.28 1305.82,961.95 1306.98,962.63 1308.13,963.32 1309.28,964.02 1310.44,964.72 1311.59,965.43 1312.75,966.15 1313.90,966.87 1315.05,967.60 1316.21,968.34 1317.36,969.08 1318.51,969.84 1319.67,970.60 1320.82,971.37 1321.97,972.14 1323.13,972.92 1324.28,973.71 1325.44,974.51 1326.59,975.32 1327.74,976.13 1328.90,976.95 1330.05,977.78 1331.20,978.61 1332.36,979.45 1333.51,980.31 1334.66,981.16 1335.82,982.03 1336.97,982.90 1338.13,983.79 1339.28,984.68 1340.43,985.57 1341.59,986.48 1342.74,987.39 1343.89,988.31 1345.05,989.24 1346.20,990.18 1347.35,991.13 1348.51,992.08 1349.66,993.05 1350.82,994.02 1351.97,994.99 1353.12,995.98 1354.28,996.98 1355.43,997.98 1356.58,998.99 1357.74,1000.02 1358.89,1001.05 1360.04,1002.08 1361.20,1003.13 1362.35,1004.19 1363.51,1005.25 1364.66,1006.32 1365.81,1007.41 1366.97,1008.50 1368.12,1009.60 1369.27,1010.70 1370.43,1011.82 1371.58,1012.95 1372.73,1014.08 1373.89,1015.23 1375.04,1016.38 1376.20,1017.54 1377.35,1018.72 1378.50,1019.90 1379.66,1021.09 1380.81,1022.29 1381.96,1023.50 1383.12,1024.72 1384.27,1025.94 1385.43,1027.18 1386.58,1028.43 1387.73,1029.69 1388.89,1030.95 1390.04,1032.23 1391.19,1033.52 1392.35,1034.81 1393.50,1036.12 1394.65,1037.43 1395.81,1038.76 1396.96,1040.10 1398.12,1041.44 1399.27,1042.80 1400.42,1044.16 1401.58,1045.54 1402.73,1046.93 1403.88,1048.32 1405.04,1049.73 1406.19,1051.15 1407.34,1052.58 1408.50,1054.02 1409.65,1055.47 1410.81,1056.93 1411.96,1058.40 1413.11,1059.88 1414.27,1061.38 1415.42,1062.88 1416.57,1064.39 1417.73,1065.92 1418.88,1067.46 1420.03,1069.01 1421.19,1070.56 1422.34,1072.13 1423.50,1073.72 1424.65,1075.31 1425.80,1076.91 1426.96,1078.53 1428.11,1080.16 1429.26,1081.80 1430.42,1083.45 1431.57,1085.11 1432.72,1086.79 1433.88,1088.47 1435.03,1090.17 1436.19,1091.88 1437.34,1093.60 1438.49,1095.34 1439.65,1097.09 1440.80,1098.84 1441.95,1100.62 1443.11,1102.40 1444.26,1104.20 1445.41,1106.01 1446.57,1107.83 1447.72,1109.66 1448.88,1111.51 1450.03,1113.37 1451.18,1115.24 1452.34,1117.13 1453.49,1119.02 1454.64,1120.94 1455.80,1122.86 1456.95,1124.80 1458.10,1126.75 1459.26,1128.72 1460.41,1130.69 1461.57,1132.69 1462.72,1134.69 1463.87,1136.71 1465.03,1138.74 1466.18,1140.79 1467.33,1142.85 1468.49,1144.93 1469.64,1147.01 1470.80,1149.12 1471.95,1151.23 1473.10,1153.37 1474.26,1155.51 1475.41,1157.67 1476.56,1159.85 1477.72,1162.04 1478.87,1164.24 1480.02,1166.46 1481.18,1168.70 1482.33,1170.94 1483.49,1173.21 1484.64,1175.49 1485.79,1177.78 1486.95,1180.09 1488.10,1182.42 1489.25,1184.76 1490.41,1187.11 1491.56,1189.49 1492.71,1191.87 1493.87,1194.28 1495.02,1196.70 1496.18,1199.13 1497.33,1201.59 1498.48,1204.05 1499.64,1206.54 1500.79,1209.04 1501.94,1211.56 1503.10,1214.09 1504.25,1216.64 1505.40,1219.21 1506.56,1221.79 1507.71,1224.39 1508.87,1227.01 1510.02,1229.65 1511.17,1232.30 1512.33,1234.97 1513.48,1237.66 1514.63,1240.36 1515.79,1243.09 1516.94,1245.83 1518.09,1248.59 1519.25,1251.36 1520.40,1254.16 1521.56,1256.97 1522.71,1259.80 1523.86,1262.65 1525.02,1265.52 1526.17,1268.41 1527.32,1271.32 1528.48,1274.24 1529.63,1277.18 1530.78,1280.15 1531.94,1283.13 1533.09,1286.13 1534.25,1289.15 1535.40,1292.19 1536.55,1295.25 1537.71,1298.33 1538.86,1301.43 1540.01,1304.55 1541.17,1307.69 1542.32,1310.85 1543.47,1314.03 1544.63,1317.23 1545.78,1320.45 1546.94,1323.69 1548.09,1326.96 1548.98,1329.50" fill="none" stroke="#7E2F8E" stroke-width="26" stroke-linejoin="round" stroke-linecap="round"/><polyline points="271.00,1048.05 272.15,1048.03 273.31,1048.02 274.46,1048.00 275.61,1047.99 276.77,1047.97 277.92,1047.96 279.08,1047.94 280.23,1047.93 281.38,1047.91 282.54,1047.90 283.69,1047.88 284.84,1047.86 286.00,1047.85 287.15,1047.83 288.30,1047.82 289.46,1047.80 290.61,1047.78 291.77,1047.77 292.92,1047.75 294.07,1047.73 295.23,1047.72 296.38,1047.70 297.53,1047.68 298.69,1047.67 299.84,1047.65 300.99,1047.63 302.15,1047.62 303.30,1047.60 304.46,1047.58 305.61,1047.56 306.76,1047.54 307.92,1047.53 309.07,1047.51 310.22,1047.49 311.38,1047.47 312.53,1047.45 313.69,1047.44 314.84,1047.42 315.99,1047.40 317.15,1047.38 318.30,1047.36 319.45,1047.34 320.61,1047.32 321.76,1047.30 322.91,1047.28 324.07,1047.26 325.22,1047.24 326.38,1047.22 327.53,1047.21 328.68,1047.19 329.84,1047.17 330.99,1047.14 332.14,1047.12 333.30,1047.10 334.45,1047.08 335.60,1047.06 336.76,1047.04 337.91,1047.02 339.07,1047.00 340.22,1046.98 341.37,1046.96 342.53,1046.94 343.68,1046.91 344.83,1046.89 345.99,1046.87 347.14,1046.85 348.29,1046.83 349.45,1046.80 350.60,1046.78 351.76,1046.76 352.91,1046.74 354.06,1046.71 355.22,1046.69 356.37,1046.67 357.52,1046.64 358.68,1046.62 359.83,1046.60 360.98,1046.57 362.14,1046.55 363.29,1046.52 364.45,1046.50 365.60,1046.48 366.75,1046.45 367.91,1046.43 369.06,1046.40 370.21,1046.38 371.37,1046.35 372.52,1046.33 373.67,1046.30 374.83,1046.28 375.98,1046.25 377.14,1046.22 378.29,1046.20 379.44,1046.17 380.60,1046.15 381.75,1046.12 382.90,1046.09 384.06,1046.07 385.21,1046.04 386.36,1046.01 387.52,1045.98 388.67,1045.96 389.83,1045.93 390.98,1045.90 392.13,1045.87 393.29,1045.85 394.44,1045.82 395.59,1045.79 396.75,1045.76 397.90,1045.73 399.06,1045.70 400.21,1045.67 401.36,1045.64 402.52,1045.61 403.67,1045.58 404.82,1045.55 405.98,1045.52 407.13,1045.49 408.28,1045.46 409.44,1045.43 410.59,1045.40 411.75,1045.37 412.90,1045.34 414.05,1045.31 415.21,1045.28 416.36,1045.24 417.51,1045.21 418.67,1045.18 419.82,1045.15 420.97,1045.11 422.13,1045.08 423.28,1045.05 424.44,1045.02 425.59,1044.98 426.74,1044.95 427.90,1044.91 429.05,1044.88 430.20,1044.85 431.36,1044.81 432.51,1044.78 433.66,1044.74 434.82,1044.71 435.97,1044.67 437.13,1044.64 438.28,1044.60 439.43,1044.56 440.59,1044.53 441.74,1044.49 442.89,1044.45 444.05,1044.42 445.20,1044.38 446.35,1044.34 447.51,1044.31 448.66,1044.27 449.82,1044.23 450.97,1044.19 452.12,1044.15 453.28,1044.11 454.43,1044.08 455.58,1044.04 456.74,1044.00 457.89,1043.96 459.04,1043.92 460.20,1043.88 461.35,1043.84 462.51,1043.80 463.66,1043.76 464.81,1043.71 465.97,1043.67 467.12,1043.63 468.27,1043.59 469.43,1043.55 470.58,1043.50 471.73,1043.46 472.89,1043.42 474.04,1043.38 475.20,1043.33 476.35,1043.29 477.50,1043.24 478.66,1043.20 479.81,1043.15 480.96,1043.11 482.12,1043.06 483.27,1043.02 484.43,1042.97 485.58,1042.93 486.73,1042.88 487.89,1042.84 489.04,1042.79 490.19,1042.74 491.35,1042.69 492.50,1042.65 493.65,1042.60 494.81,1042.55 495.96,1042.50 497.12,1042.45 498.27,1042.40 499.42,1042.35 500.58,1042.30 501.73,1042.25 502.88,1042.20 504.04,1042.15 505.19,1042.10 506.34,1042.05 507.50,1042.00 508.65,1041.95 509.81,1041.90 510.96,1041.84 512.11,1041.79 513.27,1041.74 514.42,1041.68 515.57,1041.63 516.73,1041.57 517.88,1041.52 519.03,1041.47 520.19,1041.41 521.34,1041.35 522.50,1041.30 523.65,1041.24 524.80,1041.19 525.96,1041.13 527.11,1041.07 528.26,1041.01 529.42,1040.96 530.57,1040.90 531.72,1040.84 532.88,1040.78 534.03,1040.72 535.19,1040.66 536.34,1040.60 537.49,1040.54 538.65,1040.48 539.80,1040.42 540.95,1040.36 542.11,1040.30 543.26,1040.23 544.41,1040.17 545.57,1040.11 546.72,1040.04 547.88,1039.98 549.03,1039.92 550.18,1039.85 551.34,1039.79 552.49,1039.72 553.64,1039.66 554.80,1039.59 555.95,1039.52 557.10,1039.46 558.26,1039.39 559.41,1039.32 560.57,1039.25 561.72,1039.18 562.87,1039.11 564.03,1039.05 565.18,1038.98 566.33,1038.90 567.49,1038.83 568.64,1038.76 569.80,1038.69 570.95,1038.62 572.10,1038.55 573.26,1038.47 574.41,1038.40 575.56,1038.33 576.72,1038.25 577.87,1038.18 579.02,1038.10 580.18,1038.03 581.33,1037.95 582.49,1037.87 583.64,1037.80 584.79,1037.72 585.95,1037.64 587.10,1037.56 588.25,1037.49 589.41,1037.41 590.56,1037.33 591.71,1037.25 592.87,1037.16 594.02,1037.08 595.18,1037.00 596.33,1036.92 597.48,1036.84 598.64,1036.75 599.79,1036.67 600.94,1036.59 602.10,1036.50 603.25,1036.42 604.40,1036.33 605.56,1036.24 606.71,1036.16 607.87,1036.07 609.02,1035.98 610.17,1035.89 611.33,1035.80 612.48,1035.72 613.63,1035.63 614.79,1035.53 615.94,1035.44 617.09,1035.35 618.25,1035.26 619.40,1035.17 620.56,1035.07 621.71,1034.98 622.86,1034.89 624.02,1034.79 625.17,1034.70 626.32,1034.60 627.48,1034.50 628.63,1034.41 629.78,1034.31 630.94,1034.21 632.09,1034.11 633.25,1034.01 634.40,1033.91 635.55,1033.81 636.71,1033.71 637.86,1033.61 639.01,1033.51 640.17,1033.40 641.32,1033.30 642.48,1033.19 643.63,1033.09 644.78,1032.98 645.94,1032.88 647.09,1032.77 648.24,1032.66 649.40,1032.55 650.55,1032.45 651.70,1032.34 652.86,1032.23 654.01,1032.12 655.17,1032.00 656.32,1031.89 657.47,1031.78 658.63,1031.67 659.78,1031.55 660.93,1031.44 662.09,1031.32 663.24,1031.21 664.39,1031.09 665.55,1030.97 666.70,1030.85 667.86,1030.74 669.01,1030.62 670.16,1030.50 671.32,1030.38 672.47,1030.25 673.62,1030.13 674.78,1030.01 675.93,1029.89 677.08,1029.76 678.24,1029.64 679.39,1029.51 680.55,1029.38 681.70,1029.26 682.85,1029.13 684.01,1029.00 685.16,1028.87 686.31,1028.74 687.47,1028.61 688.62,1028.48 689.77,1028.34 690.93,1028.21 692.08,1028.08 693.24,1027.94 694.39,1027.81 695.54,1027.67 696.70,1027.53 697.85,1027.39 699.00,1027.26 700.16,1027.12 701.31,1026.98 702.46,1026.83 703.62,1026.69 704.77,1026.55 705.93,1026.41 707.08,1026.26 708.23,1026.12 709.39,1025.97 710.54,1025.82 711.69,1025.68 712.85,1025.53 714.00,1025.38 715.15,1025.23 716.31,1025.08 717.46,1024.92 718.62,1024.77 719.77,1024.62 720.92,1024.46 722.08,1024.31 723.23,1024.15 724.38,1024.00 725.54,1023.84 726.69,1023.68 727.85,1023.52 729.00,1023.36 730.15,1023.20 731.31,1023.03 732.46,1022.87 733.61,1022.71 734.77,1022.54 735.92,1022.37 737.07,1022.21 738.23,1022.04 739.38,1021.87 740.54,1021.70 741.69,1021.53 742.84,1021.36 744.00,1021.19 745.15,1021.01 746.30,1020.84 747.46,1020.66 748.61,1020.49 749.76,1020.31 750.92,1020.13 752.07,1019.95 753.23,1019.77 754.38,1019.59 755.53,1019.41 756.69,1019.22 757.84,1019.04 758.99,1018.86 760.15,1018.67 761.30,1018.48 762.45,1018.29 763.61,1018.10 764.76,1017.91 765.92,1017.72 767.07,1017.53 768.22,1017.34 769.38,1017.14 770.53,1016.95 771.68,1016.75 772.84,1016.56 773.99,1016.36 775.14,1016.16 776.30,1015.96 777.45,1015.76 778.61,1015.55 779.76,1015.35 780.91,1015.15 782.07,1014.94 783.22,1014.73 784.37,1014.53 785.53,1014.32 786.68,1014.11 787.83,1013.90 788.99,1013.68 790.14,1013.47 791.30,1013.26 792.45,1013.04 793.60,1012.82 794.76,1012.61 795.91,1012.39 797.06,1012.17 798.22,1011.95 799.37,1011.73 800.52,1011.50 801.68,1011.28 802.83,1011.06 803.99,1010.83 805.14,1010.60 806.29,1010.37 807.45,1010.14 808.60,1009.91 809.75,1009.68 810.91,1009.45 812.06,1009.22 813.22,1008.98 814.37,1008.74 815.52,1008.51 816.68,1008.27 817.83,1008.03 818.98,1007.79 820.14,1007.55 821.29,1007.30 822.44,1007.06 823.60,1006.81 824.75,1006.57 825.91,1006.32 827.06,1006.07 828.21,1005.82 829.37,1005.57 830.52,1005.32 831.67,1005.07 832.83,1004.81 833.98,1004.56 835.13,1004.30 836.29,1004.04 837.44,1003.78 838.60,1003.52 839.75,1003.26 840.90,1003.00 842.06,1002.74 843.21,1002.47 844.36,1002.21 845.52,1001.94 846.67,1001.67 847.82,1001.41 848.98,1001.14 850.13,1000.86 851.29,1000.59 852.44,1000.32 853.59,1000.04 854.75,999.77 855.90,999.49 857.05,999.21 858.21,998.93 859.36,998.65 860.51,998.37 861.67,998.09 862.82,997.81 863.98,997.52 865.13,997.24 866.28,996.95 867.44,996.66 868.59,996.37 869.74,996.08 870.90,995.79 872.05,995.50 873.20,995.21 874.36,994.91 875.51,994.62 876.67,994.32 877.82,994.02 878.97,993.73 880.13,993.43 881.28,993.13 882.43,992.82 883.59,992.52 884.74,992.22 885.89,991.91 887.05,991.61 888.20,991.30 889.36,990.99 890.51,990.68 891.66,990.38 892.82,990.06 893.97,989.75 895.12,989.44 896.28,989.13 897.43,988.81 898.59,988.50 899.74,988.18 900.89,987.86 902.05,987.54 903.20,987.23 904.35,986.91 905.51,986.58 906.66,986.26 907.81,985.94 908.97,985.62 910.12,985.29 911.28,984.97 912.43,984.64 913.58,984.31 914.74,983.99 915.89,983.66 917.04,983.33 918.20,983.00 919.35,982.67 920.50,982.34 921.66,982.00 922.81,981.67 923.97,981.34 925.12,981.00 926.27,980.67 927.43,980.33 928.58,979.99 929.73,979.66 930.89,979.32 932.04,978.98 933.19,978.64 934.35,978.30 935.50,977.96 936.66,977.62 937.81,977.28 938.96,976.93 940.12,976.59 941.27,976.25 942.42,975.90 943.58,975.56 944.73,975.22 945.88,974.87 947.04,974.53 948.19,974.18 949.35,973.83 950.50,973.49 951.65,973.14 952.81,972.79 953.96,972.44 955.11,972.10 956.27,971.75 957.42,971.40 958.57,971.05 959.73,970.70 960.88,970.35 962.04,970.00 963.19,969.65 964.34,969.30 965.50,968.95 966.65,968.60 967.80,968.25 968.96,967.90 970.11,967.55 971.27,967.20 972.42,966.85 973.57,966.49 974.73,966.14 975.88,965.79 977.03,965.44 978.19,965.09 979.34,964.74 980.49,964.39 981.65,964.04 982.80,963.69 983.96,963.34 985.11,962.99 986.26,962.64 987.42,962.29 988.57,961.94 989.72,961.59 990.88,961.25 992.03,960.90 993.18,960.55 994.34,960.20 995.49,959.86 996.65,959.51 997.80,959.16 998.95,958.82 1000.11,958.47 1001.26,958.13 1002.41,957.78 1003.57,957.44 1004.72,957.10 1005.87,956.76 1007.03,956.41 1008.18,956.07 1009.34,955.73 1010.49,955.39 1011.64,955.06 1012.80,954.72 1013.95,954.38 1015.10,954.05 1016.26,953.71 1017.41,953.38 1018.56,953.04 1019.72,952.71 1020.87,952.38 1022.03,952.05 1023.18,951.72 1024.33,951.39 1025.49,951.06 1026.64,950.74 1027.79,950.41 1028.95,950.09 1030.10,949.76 1031.25,949.44 1032.41,949.12 1033.56,948.80 1034.72,948.49 1035.87,948.17 1037.02,947.85 1038.18,947.54 1039.33,947.23 1040.48,946.92 1041.64,946.61 1042.79,946.30 1043.94,945.99 1045.10,945.69 1046.25,945.38 1047.41,945.08 1048.56,944.78 1049.71,944.48 1050.87,944.18 1052.02,943.89 1053.17,943.59 1054.33,943.30 1055.48,943.01 1056.64,942.72 1057.79,942.44 1058.94,942.15 1060.10,941.87 1061.25,941.59 1062.40,941.31 1063.56,941.03 1064.71,940.75 1065.86,940.48 1067.02,940.21 1068.17,939.94 1069.33,939.67 1070.48,939.41 1071.63,939.14 1072.79,938.88 1073.94,938.62 1075.09,938.37 1076.25,938.11 1077.40,937.86 1078.55,937.61 1079.71,937.36 1080.86,937.12 1082.02,936.87 1083.17,936.63 1084.32,936.39 1085.48,936.16 1086.63,935.92 1087.78,935.69 1088.94,935.46 1090.09,935.23 1091.24,935.01 1092.40,934.79 1093.55,934.57 1094.71,934.35 1095.86,934.14 1097.01,933.93 1098.17,933.72 1099.32,933.51 1100.47,933.31 1101.63,933.11 1102.78,932.91 1103.93,932.71 1105.09,932.52 1106.24,932.33 1107.40,932.14 1108.55,931.96 1109.70,931.77 1110.86,931.59 1112.01,931.42 1113.16,931.24 1114.32,931.07 1115.47,930.91 1116.62,930.74 1117.78,930.58 1118.93,930.42 1120.09,930.26 1121.24,930.11 1122.39,929.96 1123.55,929.81 1124.70,929.67 1125.85,929.53 1127.01,929.39 1128.16,929.25 1129.31,929.12 1130.47,928.99 1131.62,928.86 1132.78,928.74 1133.93,928.62 1135.08,928.50 1136.24,928.39 1137.39,928.28 1138.54,928.17 1139.70,928.07 1140.85,927.97 1142.01,927.87 1143.16,927.77 1144.31,927.68 1145.47,927.59 1146.62,927.51 1147.77,927.42 1148.93,927.34 1150.08,927.27 1151.23,927.20 1152.39,927.13 1153.54,927.06 1154.70,927.00 1155.85,926.94 1157.00,926.88 1158.16,926.83 1159.31,926.78 1160.46,926.73 1161.62,926.69 1162.77,926.65 1163.92,926.61 1165.08,926.58 1166.23,926.55 1167.39,926.52 1168.54,926.50 1169.69,926.48 1170.85,926.46 1172.00,926.44 1173.15,926.43 1174.31,926.43 1175.46,926.42 1176.61,926.42 1177.77,926.43 1178.92,926.43 1180.08,926.44 1181.23,926.45 1182.38,926.47 1183.54,926.49 1184.69,926.51 1185.84,926.54 1187.00,926.57 1188.15,926.60 1189.30,926.63 1190.46,926.67 1191.61,926.71 1192.77,926.76 1193.92,926.81 1195.07,926.86 1196.23,926.92 1197.38,926.98 1198.53,927.04 1199.69,927.10 1200.84,927.17 1201.99,927.24 1203.15,927.32 1204.30,927.39 1205.46,927.48 1206.61,927.56 1207.76,927.65 1208.92,927.74 1210.07,927.83 1211.22,927.93 1212.38,928.03 1213.53,928.13 1214.68,928.24 1215.84,928.35 1216.99,928.46 1218.15,928.58 1219.30,928.70 1220.45,928.82 1221.61,928.94 1222.76,929.07 1223.91,929.20 1225.07,929.34 1226.22,929.47 1227.38,929.62 1228.53,929.76 1229.68,929.90 1230.84,930.05 1231.99,930.21 1233.14,930.36 1234.30,930.52 1235.45,930.68 1236.60,930.84 1237.76,931.01 1238.91,931.18 1240.07,931.35 1241.22,931.53 1242.37,931.71 1243.53,931.89 1244.68,932.07 1245.83,932.26 1246.99,932.45 1248.14,932.64 1249.29,932.83 1250.45,933.03 1251.60,933.23 1252.76,933.44 1253.91,933.64 1255.06,933.85 1256.22,934.06 1257.37,934.27 1258.52,934.49 1259.68,934.71 1260.83,934.93 1261.98,935.15 1263.14,935.38 1264.29,935.60 1265.45,935.84 1266.60,936.07 1267.75,936.30 1268.91,936.54 1270.06,936.78 1271.21,937.03 1272.37,937.27 1273.52,937.52 1274.67,937.77 1275.83,938.02 1276.98,938.27 1278.14,938.53 1279.29,938.79 1280.44,939.05 1281.60,939.31 1282.75,939.57 1283.90,939.84 1285.06,940.11 1286.21,940.38 1287.36,940.65 1288.52,940.93 1289.67,941.21 1290.83,941.48 1291.98,941.76 1293.13,942.05 1294.29,942.33 1295.44,942.62 1296.59,942.91 1297.75,943.20 1298.90,943.49 1300.05,943.78 1301.21,944.07 1302.36,944.37 1303.52,944.67 1304.67,944.97 1305.82,945.27 1306.98,945.57 1308.13,945.88 1309.28,946.19 1310.44,946.49 1311.59,946.80 1312.75,947.11 1313.90,947.42 1315.05,947.74 1316.21,948.05 1317.36,948.37 1318.51,948.69 1319.67,949.00 1320.82,949.32 1321.97,949.65 1323.13,949.97 1324.28,950.29 1325.44,950.62 1326.59,950.94 1327.74,951.27 1328.90,951.60 1330.05,951.93 1331.20,952.26 1332.36,952.59 1333.51,952.92 1334.66,953.25 1335.82,953.59 1336.97,953.92 1338.13,954.26 1339.28,954.59 1340.43,954.93 1341.59,955.27 1342.74,955.61 1343.89,955.95 1345.05,956.29 1346.20,956.63 1347.35,956.97 1348.51,957.31 1349.66,957.66 1350.82,958.00 1351.97,958.35 1353.12,958.69 1354.28,959.04 1355.43,959.38 1356.58,959.73 1357.74,960.07 1358.89,960.42 1360.04,960.77 1361.20,961.12 1362.35,961.47 1363.51,961.81 1364.66,962.16 1365.81,962.51 1366.97,962.86 1368.12,963.21 1369.27,963.56 1370.43,963.91 1371.58,964.26 1372.73,964.61 1373.89,964.96 1375.04,965.31 1376.20,965.66 1377.35,966.01 1378.50,966.37 1379.66,966.72 1380.81,967.07 1381.96,967.42 1383.12,967.77 1384.27,968.12 1385.43,968.47 1386.58,968.82 1387.73,969.17 1388.89,969.52 1390.04,969.87 1391.19,970.22 1392.35,970.57 1393.50,970.92 1394.65,971.27 1395.81,971.62 1396.96,971.97 1398.12,972.32 1399.27,972.66 1400.42,973.01 1401.58,973.36 1402.73,973.71 1403.88,974.05 1405.04,974.40 1406.19,974.74 1407.34,975.09 1408.50,975.43 1409.65,975.78 1410.81,976.12 1411.96,976.47 1413.11,976.81 1414.27,977.15 1415.42,977.49 1416.57,977.83 1417.73,978.17 1418.88,978.51 1420.03,978.85 1421.19,979.19 1422.34,979.53 1423.50,979.87 1424.65,980.21 1425.80,980.54 1426.96,980.88 1428.11,981.21 1429.26,981.55 1430.42,981.88 1431.57,982.21 1432.72,982.54 1433.88,982.88 1435.03,983.21 1436.19,983.54 1437.34,983.87 1438.49,984.19 1439.65,984.52 1440.80,984.85 1441.95,985.17 1443.11,985.50 1444.26,985.82 1445.41,986.14 1446.57,986.47 1447.72,986.79 1448.88,987.11 1450.03,987.43 1451.18,987.75 1452.34,988.06 1453.49,988.38 1454.64,988.70 1455.80,989.01 1456.95,989.32 1458.10,989.64 1459.26,989.95 1460.41,990.26 1461.57,990.57 1462.72,990.88 1463.87,991.19 1465.03,991.50 1466.18,991.80 1467.33,992.11 1468.49,992.41 1469.64,992.71 1470.80,993.02 1471.95,993.32 1473.10,993.62 1474.26,993.91 1475.41,994.21 1476.56,994.51 1477.72,994.81 1478.87,995.10 1480.02,995.39 1481.18,995.69 1482.33,995.98 1483.49,996.27 1484.64,996.56 1485.79,996.85 1486.95,997.13 1488.10,997.42 1489.25,997.70 1490.41,997.99 1491.56,998.27 1492.71,998.55 1493.87,998.83 1495.02,999.11 1496.18,999.39 1497.33,999.67 1498.48,999.94 1499.64,1000.22 1500.79,1000.49 1501.94,1000.76 1503.10,1001.04 1504.25,1001.31 1505.40,1001.58 1506.56,1001.84 1507.71,1002.11 1508.87,1002.38 1510.02,1002.64 1511.17,1002.90 1512.33,1003.17 1513.48,1003.43 1514.63,1003.69 1515.79,1003.95 1516.94,1004.21 1518.09,1004.46 1519.25,1004.72 1520.40,1004.97 1521.56,1005.23 1522.71,1005.48 1523.86,1005.73 1525.02,1005.98 1526.17,1006.23 1527.32,1006.48 1528.48,1006.72 1529.63,1006.97 1530.78,1007.21 1531.94,1007.46 1533.09,1007.70 1534.25,1007.94 1535.40,1008.18 1536.55,1008.42 1537.71,1008.66 1538.86,1008.89 1540.01,1009.13 1541.17,1009.36 1542.32,1009.60 1543.47,1009.83 1544.63,1010.06 1545.78,1010.29 1546.94,1010.52 1548.09,1010.75 1549.24,1010.97 1550.40,1011.20 1551.55,1011.42 1552.70,1011.65 1553.86,1011.87 1555.01,1012.09 1556.17,1012.31 1557.32,1012.53 1558.47,1012.75 1559.63,1012.96 1560.78,1013.18 1561.93,1013.39 1563.09,1013.61 1564.24,1013.82 1565.39,1014.03 1566.55,1014.24 1567.70,1014.45 1568.86,1014.66 1570.01,1014.86 1571.16,1015.07 1572.32,1015.27 1573.47,1015.48 1574.62,1015.68 1575.78,1015.88 1576.93,1016.08 1578.08,1016.28 1579.24,1016.48 1580.39,1016.68 1581.55,1016.88 1582.70,1017.07 1583.85,1017.27 1585.01,1017.46 1586.16,1017.65 1587.31,1017.84 1588.47,1018.03 1589.62,1018.22 1590.77,1018.41 1591.93,1018.60 1593.08,1018.79 1594.24,1018.97 1595.39,1019.16 1596.54,1019.34 1597.70,1019.52 1598.85,1019.70 1600.00,1019.89 1601.16,1020.06 1602.31,1020.24 1603.46,1020.42 1604.62,1020.60 1605.77,1020.77 1606.93,1020.95 1608.08,1021.12 1609.23,1021.30 1610.39,1021.47 1611.54,1021.64 1612.69,1021.81 1613.85,1021.98 1615.00,1022.15 1616.15,1022.31 1617.31,1022.48 1618.46,1022.65 1619.62,1022.81 1620.77,1022.97 1621.92,1023.14 1623.08,1023.30 1624.23,1023.46 1625.38,1023.62 1626.54,1023.78 1627.69,1023.94 1628.84,1024.09 1630.00,1024.25 1631.15,1024.41 1632.31,1024.56 1633.46,1024.72 1634.61,1024.87 1635.77,1025.02 1636.92,1025.17 1638.07,1025.32 1639.23,1025.47 1640.38,1025.62 1641.54,1025.77 1642.69,1025.92 1643.84,1026.06 1645.00,1026.21 1646.15,1026.35 1647.30,1026.50 1648.46,1026.64 1649.61,1026.78 1650.76,1026.92 1651.92,1027.06 1653.07,1027.20 1654.23,1027.34 1655.38,1027.48 1656.53,1027.62 1657.69,1027.76 1658.84,1027.89 1659.99,1028.03 1661.15,1028.16 1662.30,1028.30 1663.45,1028.43 1664.61,1028.56 1665.76,1028.69 1666.92,1028.82 1668.07,1028.95 1669.22,1029.08 1670.38,1029.21 1671.53,1029.34 1672.68,1029.46 1673.84,1029.59 1674.99,1029.71 1676.14,1029.84 1677.30,1029.96 1678.45,1030.09 1679.61,1030.21 1680.76,1030.33 1681.91,1030.45 1683.07,1030.57 1684.22,1030.69 1685.37,1030.81 1686.53,1030.93 1687.68,1031.05 1688.83,1031.16 1689.99,1031.28 1691.14,1031.40 1692.30,1031.51 1693.45,1031.62 1694.60,1031.74 1695.76,1031.85 1696.91,1031.96 1698.06,1032.08 1699.22,1032.19 1700.37,1032.30 1701.52,1032.41 1702.68,1032.51 1703.83,1032.62 1704.99,1032.73 1706.14,1032.84 1707.29,1032.94 1708.45,1033.05 1709.60,1033.16 1710.75,1033.26 1711.91,1033.36 1713.06,1033.47 1714.22,1033.57 1715.37,1033.67 1716.52,1033.77 1717.68,1033.87 1718.83,1033.97 1719.98,1034.07 1721.14,1034.17 1722.29,1034.27 1723.44,1034.37 1724.60,1034.47 1725.75,1034.56 1726.91,1034.66 1728.06,1034.76 1729.21,1034.85 1730.37,1034.95 1731.52,1035.04 1732.67,1035.13 1733.83,1035.23 1734.98,1035.32 1736.13,1035.41 1737.29,1035.50 1738.44,1035.59 1739.60,1035.68 1740.75,1035.77 1741.90,1035.86 1743.06,1035.95 1744.21,1036.04 1745.36,1036.13 1746.52,1036.21 1747.67,1036.30 1748.82,1036.38 1749.98,1036.47 1751.13,1036.55 1752.29,1036.64 1753.44,1036.72 1754.59,1036.81 1755.75,1036.89 1756.90,1036.97 1758.05,1037.05 1759.21,1037.14 1760.36,1037.22 1761.51,1037.30 1762.67,1037.38 1763.82,1037.46 1764.98,1037.53 1766.13,1037.61 1767.28,1037.69 1768.44,1037.77 1769.59,1037.85 1770.74,1037.92 1771.90,1038.00 1773.05,1038.07 1774.20,1038.15 1775.36,1038.23 1776.51,1038.30 1777.67,1038.37 1778.82,1038.45 1779.97,1038.52 1781.13,1038.59 1782.28,1038.66 1783.43,1038.74 1784.59,1038.81 1785.74,1038.88 1786.89,1038.95 1788.05,1039.02 1789.20,1039.09 1790.36,1039.16 1791.51,1039.23 1792.66,1039.30 1793.82,1039.36 1794.97,1039.43 1796.12,1039.50 1797.28,1039.56 1798.43,1039.63 1799.59,1039.70 1800.74,1039.76 1801.89,1039.83 1803.05,1039.89 1804.20,1039.96 1805.35,1040.02 1806.51,1040.08 1807.66,1040.15 1808.81,1040.21 1809.97,1040.27 1811.12,1040.33 1812.28,1040.40 1813.43,1040.46 1814.58,1040.52 1815.74,1040.58 1816.89,1040.64 1818.04,1040.70 1819.20,1040.76 1820.35,1040.82 1821.50,1040.88 1822.66,1040.94 1823.81,1040.99 1824.97,1041.05 1826.12,1041.11 1827.27,1041.17 1828.43,1041.22 1829.58,1041.28 1830.73,1041.33 1831.89,1041.39 1833.04,1041.45 1834.19,1041.50 1835.35,1041.55 1836.50,1041.61 1837.66,1041.66 1838.81,1041.72 1839.96,1041.77 1841.12,1041.82 1842.27,1041.88 1843.42,1041.93 1844.58,1041.98 1845.73,1042.03 1846.88,1042.08 1848.04,1042.13 1849.19,1042.19 1850.35,1042.24 1851.50,1042.29 1852.65,1042.34 1853.81,1042.39 1854.96,1042.43 1856.11,1042.48 1857.27,1042.53 1858.42,1042.58 1859.57,1042.63 1860.73,1042.68 1861.88,1042.72 1863.04,1042.77 1864.19,1042.82 1865.34,1042.86 1866.50,1042.91 1867.65,1042.96 1868.80,1043.00 1869.96,1043.05 1871.11,1043.09 1872.26,1043.14 1873.42,1043.18 1874.57,1043.23 1875.73,1043.27 1876.88,1043.32 1878.03,1043.36 1879.19,1043.40 1880.34,1043.45 1881.49,1043.49 1882.65,1043.53 1883.80,1043.57 1884.96,1043.62 1886.11,1043.66 1887.26,1043.70 1888.42,1043.74 1889.57,1043.78 1890.72,1043.82 1891.88,1043.86 1893.03,1043.90 1894.18,1043.94 1895.34,1043.98 1896.49,1044.02 1897.65,1044.06 1898.80,1044.10 1899.95,1044.14 1901.11,1044.18 1902.26,1044.22 1903.41,1044.25 1904.57,1044.29 1905.72,1044.33 1906.87,1044.37 1908.03,1044.40 1909.18,1044.44 1910.34,1044.48 1911.49,1044.51 1912.64,1044.55 1913.80,1044.59 1914.95,1044.62 1916.10,1044.66 1917.26,1044.69 1918.41,1044.73 1919.56,1044.76 1920.72,1044.80 1921.87,1044.83 1923.03,1044.87 1924.18,1044.90 1925.33,1044.94 1926.49,1044.97 1927.64,1045.00 1928.79,1045.04 1929.95,1045.07 1931.10,1045.10 1932.25,1045.14 1933.41,1045.17 1934.56,1045.20 1935.72,1045.23 1936.87,1045.26 1938.02,1045.30 1939.18,1045.33 1940.33,1045.36 1941.48,1045.39 1942.64,1045.42 1943.79,1045.45 1944.94,1045.48 1946.10,1045.51 1947.25,1045.54 1948.41,1045.57 1949.56,1045.60 1950.71,1045.63 1951.87,1045.66 1953.02,1045.69 1954.17,1045.72 1955.33,1045.75 1956.48,1045.78 1957.63,1045.81 1958.79,1045.83 1959.94,1045.86 1961.10,1045.89 1962.25,1045.92 1963.40,1045.95 1964.56,1045.97 1965.71,1046.00 1966.86,1046.03 1968.02,1046.06 1969.17,1046.08 1970.33,1046.11 1971.48,1046.14 1972.63,1046.16 1973.79,1046.19 1974.94,1046.21 1976.09,1046.24 1977.25,1046.27 1978.40,1046.29 1979.55,1046.32 1980.71,1046.34 1981.86,1046.37 1983.02,1046.39 1984.17,1046.42 1985.32,1046.44 1986.48,1046.47 1987.63,1046.49 1988.78,1046.52 1989.94,1046.54 1991.09,1046.56 1992.24,1046.59 1993.40,1046.61 1994.55,1046.63 1995.71,1046.66 1996.86,1046.68 1998.01,1046.70 1999.17,1046.73 2000.32,1046.75" fill="none" stroke="#fff" stroke-width="14" stroke-linejoin="round"/><polyline points="271.00,1048.05 272.15,1048.03 273.31,1048.02 274.46,1048.00 275.61,1047.99 276.77,1047.97 277.92,1047.96 279.08,1047.94 280.23,1047.93 281.38,1047.91 282.54,1047.90 283.69,1047.88 284.84,1047.86 286.00,1047.85 287.15,1047.83 288.30,1047.82 289.46,1047.80 290.61,1047.78 291.77,1047.77 292.92,1047.75 294.07,1047.73 295.23,1047.72 296.38,1047.70 297.53,1047.68 298.69,1047.67 299.84,1047.65 300.99,1047.63 302.15,1047.62 303.30,1047.60 304.46,1047.58 305.61,1047.56 306.76,1047.54 307.92,1047.53 309.07,1047.51 310.22,1047.49 311.38,1047.47 312.53,1047.45 313.69,1047.44 314.84,1047.42 315.99,1047.40 317.15,1047.38 318.30,1047.36 319.45,1047.34 320.61,1047.32 321.76,1047.30 322.91,1047.28 324.07,1047.26 325.22,1047.24 326.38,1047.22 327.53,1047.21 328.68,1047.19 329.84,1047.17 330.99,1047.14 332.14,1047.12 333.30,1047.10 334.45,1047.08 335.60,1047.06 336.76,1047.04 337.91,1047.02 339.07,1047.00 340.22,1046.98 341.37,1046.96 342.53,1046.94 343.68,1046.91 344.83,1046.89 345.99,1046.87 347.14,1046.85 348.29,1046.83 349.45,1046.80 350.60,1046.78 351.76,1046.76 352.91,1046.74 354.06,1046.71 355.22,1046.69 356.37,1046.67 357.52,1046.64 358.68,1046.62 359.83,1046.60 360.98,1046.57 362.14,1046.55 363.29,1046.52 364.45,1046.50 365.60,1046.48 366.75,1046.45 367.91,1046.43 369.06,1046.40 370.21,1046.38 371.37,1046.35 372.52,1046.33 373.67,1046.30 374.83,1046.28 375.98,1046.25 377.14,1046.22 378.29,1046.20 379.44,1046.17 380.60,1046.15 381.75,1046.12 382.90,1046.09 384.06,1046.07 385.21,1046.04 386.36,1046.01 387.52,1045.98 388.67,1045.96 389.83,1045.93 390.98,1045.90 392.13,1045.87 393.29,1045.85 394.44,1045.82 395.59,1045.79 396.75,1045.76 397.90,1045.73 399.06,1045.70 400.21,1045.67 401.36,1045.64 402.52,1045.61 403.67,1045.58 404.82,1045.55 405.98,1045.52 407.13,1045.49 408.28,1045.46 409.44,1045.43 410.59,1045.40 411.75,1045.37 412.90,1045.34 414.05,1045.31 415.21,1045.28 416.36,1045.24 417.51,1045.21 418.67,1045.18 419.82,1045.15 420.97,1045.11 422.13,1045.08 423.28,1045.05 424.44,1045.02 425.59,1044.98 426.74,1044.95 427.90,1044.91 429.05,1044.88 430.20,1044.85 431.36,1044.81 432.51,1044.78 433.66,1044.74 434.82,1044.71 435.97,1044.67 437.13,1044.64 438.28,1044.60 439.43,1044.56 440.59,1044.53 441.74,1044.49 442.89,1044.45 444.05,1044.42 445.20,1044.38 446.35,1044.34 447.51,1044.31 448.66,1044.27 449.82,1044.23 450.97,1044.19 452.12,1044.15 453.28,1044.11 454.43,1044.08 455.58,1044.04 456.74,1044.00 457.89,1043.96 459.04,1043.92 460.20,1043.88 461.35,1043.84 462.51,1043.80 463.66,1043.76 464.81,1043.71 465.97,1043.67 467.12,1043.63 468.27,1043.59 469.43,1043.55 470.58,1043.50 471.73,1043.46 472.89,1043.42 474.04,1043.38 475.20,1043.33 476.35,1043.29 477.50,1043.24 478.66,1043.20 479.81,1043.15 480.96,1043.11 482.12,1043.06 483.27,1043.02 484.43,1042.97 485.58,1042.93 486.73,1042.88 487.89,1042.84 489.04,1042.79 490.19,1042.74 491.35,1042.69 492.50,1042.65 493.65,1042.60 494.81,1042.55 495.96,1042.50 497.12,1042.45 498.27,1042.40 499.42,1042.35 500.58,1042.30 501.73,1042.25 502.88,1042.20 504.04,1042.15 505.19,1042.10 506.34,1042.05 507.50,1042.00 508.65,1041.95 509.81,1041.90 510.96,1041.84 512.11,1041.79 513.27,1041.74 514.42,1041.68 515.57,1041.63 516.73,1041.57 517.88,1041.52 519.03,1041.47 520.19,1041.41 521.34,1041.35 522.50,1041.30 523.65,1041.24 524.80,1041.19 525.96,1041.13 527.11,1041.07 528.26,1041.01 529.42,1040.96 530.57,1040.90 531.72,1040.84 532.88,1040.78 534.03,1040.72 535.19,1040.66 536.34,1040.60 537.49,1040.54 538.65,1040.48 539.80,1040.42 540.95,1040.36 542.11,1040.30 543.26,1040.23 544.41,1040.17 545.57,1040.11 546.72,1040.04 547.88,1039.98 549.03,1039.92 550.18,1039.85 551.34,1039.79 552.49,1039.72 553.64,1039.66 554.80,1039.59 555.95,1039.52 557.10,1039.46 558.26,1039.39 559.41,1039.32 560.57,1039.25 561.72,1039.18 562.87,1039.11 564.03,1039.05 565.18,1038.98 566.33,1038.90 567.49,1038.83 568.64,1038.76 569.80,1038.69 570.95,1038.62 572.10,1038.55 573.26,1038.47 574.41,1038.40 575.56,1038.33 576.72,1038.25 577.87,1038.18 579.02,1038.10 580.18,1038.03 581.33,1037.95 582.49,1037.87 583.64,1037.80 584.79,1037.72 585.95,1037.64 587.10,1037.56 588.25,1037.49 589.41,1037.41 590.56,1037.33 591.71,1037.25 592.87,1037.16 594.02,1037.08 595.18,1037.00 596.33,1036.92 597.48,1036.84 598.64,1036.75 599.79,1036.67 600.94,1036.59 602.10,1036.50 603.25,1036.42 604.40,1036.33 605.56,1036.24 606.71,1036.16 607.87,1036.07 609.02,1035.98 610.17,1035.89 611.33,1035.80 612.48,1035.72 613.63,1035.63 614.79,1035.53 615.94,1035.44 617.09,1035.35 618.25,1035.26 619.40,1035.17 620.56,1035.07 621.71,1034.98 622.86,1034.89 624.02,1034.79 625.17,1034.70 626.32,1034.60 627.48,1034.50 628.63,1034.41 629.78,1034.31 630.94,1034.21 632.09,1034.11 633.25,1034.01 634.40,1033.91 635.55,1033.81 636.71,1033.71 637.86,1033.61 639.01,1033.51 640.17,1033.40 641.32,1033.30 642.48,1033.19 643.63,1033.09 644.78,1032.98 645.94,1032.88 647.09,1032.77 648.24,1032.66 649.40,1032.55 650.55,1032.45 651.70,1032.34 652.86,1032.23 654.01,1032.12 655.17,1032.00 656.32,1031.89 657.47,1031.78 658.63,1031.67 659.78,1031.55 660.93,1031.44 662.09,1031.32 663.24,1031.21 664.39,1031.09 665.55,1030.97 666.70,1030.85 667.86,1030.74 669.01,1030.62 670.16,1030.50 671.32,1030.38 672.47,1030.25 673.62,1030.13 674.78,1030.01 675.93,1029.89 677.08,1029.76 678.24,1029.64 679.39,1029.51 680.55,1029.38 681.70,1029.26 682.85,1029.13 684.01,1029.00 685.16,1028.87 686.31,1028.74 687.47,1028.61 688.62,1028.48 689.77,1028.34 690.93,1028.21 692.08,1028.08 693.24,1027.94 694.39,1027.81 695.54,1027.67 696.70,1027.53 697.85,1027.39 699.00,1027.26 700.16,1027.12 701.31,1026.98 702.46,1026.83 703.62,1026.69 704.77,1026.55 705.93,1026.41 707.08,1026.26 708.23,1026.12 709.39,1025.97 710.54,1025.82 711.69,1025.68 712.85,1025.53 714.00,1025.38 715.15,1025.23 716.31,1025.08 717.46,1024.92 718.62,1024.77 719.77,1024.62 720.92,1024.46 722.08,1024.31 723.23,1024.15 724.38,1024.00 725.54,1023.84 726.69,1023.68 727.85,1023.52 729.00,1023.36 730.15,1023.20 731.31,1023.03 732.46,1022.87 733.61,1022.71 734.77,1022.54 735.92,1022.37 737.07,1022.21 738.23,1022.04 739.38,1021.87 740.54,1021.70 741.69,1021.53 742.84,1021.36 744.00,1021.19 745.15,1021.01 746.30,1020.84 747.46,1020.66 748.61,1020.49 749.76,1020.31 750.92,1020.13 752.07,1019.95 753.23,1019.77 754.38,1019.59 755.53,1019.41 756.69,1019.22 757.84,1019.04 758.99,1018.86 760.15,1018.67 761.30,1018.48 762.45,1018.29 763.61,1018.10 764.76,1017.91 765.92,1017.72 767.07,1017.53 768.22,1017.34 769.38,1017.14 770.53,1016.95 771.68,1016.75 772.84,1016.56 773.99,1016.36 775.14,1016.16 776.30,1015.96 777.45,1015.76 778.61,1015.55 779.76,1015.35 780.91,1015.15 782.07,1014.94 783.22,1014.73 784.37,1014.53 785.53,1014.32 786.68,1014.11 787.83,1013.90 788.99,1013.68 790.14,1013.47 791.30,1013.26 792.45,1013.04 793.60,1012.82 794.76,1012.61 795.91,1012.39 797.06,1012.17 798.22,1011.95 799.37,1011.73 800.52,1011.50 801.68,1011.28 802.83,1011.06 803.99,1010.83 805.14,1010.60 806.29,1010.37 807.45,1010.14 808.60,1009.91 809.75,1009.68 810.91,1009.45 812.06,1009.22 813.22,1008.98 814.37,1008.74 815.52,1008.51 816.68,1008.27 817.83,1008.03 818.98,1007.79 820.14,1007.55 821.29,1007.30 822.44,1007.06 823.60,1006.81 824.75,1006.57 825.91,1006.32 827.06,1006.07 828.21,1005.82 829.37,1005.57 830.52,1005.32 831.67,1005.07 832.83,1004.81 833.98,1004.56 835.13,1004.30 836.29,1004.04 837.44,1003.78 838.60,1003.52 839.75,1003.26 840.90,1003.00 842.06,1002.74 843.21,1002.47 844.36,1002.21 845.52,1001.94 846.67,1001.67 847.82,1001.41 848.98,1001.14 850.13,1000.86 851.29,1000.59 852.44,1000.32 853.59,1000.04 854.75,999.77 855.90,999.49 857.05,999.21 858.21,998.93 859.36,998.65 860.51,998.37 861.67,998.09 862.82,997.81 863.98,997.52 865.13,997.24 866.28,996.95 867.44,996.66 868.59,996.37 869.74,996.08 870.90,995.79 872.05,995.50 873.20,995.21 874.36,994.91 875.51,994.62 876.67,994.32 877.82,994.02 878.97,993.73 880.13,993.43 881.28,993.13 882.43,992.82 883.59,992.52 884.74,992.22 885.89,991.91 887.05,991.61 888.20,991.30 889.36,990.99 890.51,990.68 891.66,990.38 892.82,990.06 893.97,989.75 895.12,989.44 896.28,989.13 897.43,988.81 898.59,988.50 899.74,988.18 900.89,987.86 902.05,987.54 903.20,987.23 904.35,986.91 905.51,986.58 906.66,986.26 907.81,985.94 908.97,985.62 910.12,985.29 911.28,984.97 912.43,984.64 913.58,984.31 914.74,983.99 915.89,983.66 917.04,983.33 918.20,983.00 919.35,982.67 920.50,982.34 921.66,982.00 922.81,981.67 923.97,981.34 925.12,981.00 926.27,980.67 927.43,980.33 928.58,979.99 929.73,979.66 930.89,979.32 932.04,978.98 933.19,978.64 934.35,978.30 935.50,977.96 936.66,977.62 937.81,977.28 938.96,976.93 940.12,976.59 941.27,976.25 942.42,975.90 943.58,975.56 944.73,975.22 945.88,974.87 947.04,974.53 948.19,974.18 949.35,973.83 950.50,973.49 951.65,973.14 952.81,972.79 953.96,972.44 955.11,972.10 956.27,971.75 957.42,971.40 958.57,971.05 959.73,970.70 960.88,970.35 962.04,970.00 963.19,969.65 964.34,969.30 965.50,968.95 966.65,968.60 967.80,968.25 968.96,967.90 970.11,967.55 971.27,967.20 972.42,966.85 973.57,966.49 974.73,966.14 975.88,965.79 977.03,965.44 978.19,965.09 979.34,964.74 980.49,964.39 981.65,964.04 982.80,963.69 983.96,963.34 985.11,962.99 986.26,962.64 987.42,962.29 988.57,961.94 989.72,961.59 990.88,961.25 992.03,960.90 993.18,960.55 994.34,960.20 995.49,959.86 996.65,959.51 997.80,959.16 998.95,958.82 1000.11,958.47 1001.26,958.13 1002.41,957.78 1003.57,957.44 1004.72,957.10 1005.87,956.76 1007.03,956.41 1008.18,956.07 1009.34,955.73 1010.49,955.39 1011.64,955.06 1012.80,954.72 1013.95,954.38 1015.10,954.05 1016.26,953.71 1017.41,953.38 1018.56,953.04 1019.72,952.71 1020.87,952.38 1022.03,952.05 1023.18,951.72 1024.33,951.39 1025.49,951.06 1026.64,950.74 1027.79,950.41 1028.95,950.09 1030.10,949.76 1031.25,949.44 1032.41,949.12 1033.56,948.80 1034.72,948.49 1035.87,948.17 1037.02,947.85 1038.18,947.54 1039.33,947.23 1040.48,946.92 1041.64,946.61 1042.79,946.30 1043.94,945.99 1045.10,945.69 1046.25,945.38 1047.41,945.08 1048.56,944.78 1049.71,944.48 1050.87,944.18 1052.02,943.89 1053.17,943.59 1054.33,943.30 1055.48,943.01 1056.64,942.72 1057.79,942.44 1058.94,942.15 1060.10,941.87 1061.25,941.59 1062.40,941.31 1063.56,941.03 1064.71,940.75 1065.86,940.48 1067.02,940.21 1068.17,939.94 1069.33,939.67 1070.48,939.41 1071.63,939.14 1072.79,938.88 1073.94,938.62 1075.09,938.37 1076.25,938.11 1077.40,937.86 1078.55,937.61 1079.71,937.36 1080.86,937.12 1082.02,936.87 1083.17,936.63 1084.32,936.39 1085.48,936.16 1086.63,935.92 1087.78,935.69 1088.94,935.46 1090.09,935.23 1091.24,935.01 1092.40,934.79 1093.55,934.57 1094.71,934.35 1095.86,934.14 1097.01,933.93 1098.17,933.72 1099.32,933.51 1100.47,933.31 1101.63,933.11 1102.78,932.91 1103.93,932.71 1105.09,932.52 1106.24,932.33 1107.40,932.14 1108.55,931.96 1109.70,931.77 1110.86,931.59 1112.01,931.42 1113.16,931.24 1114.32,931.07 1115.47,930.91 1116.62,930.74 1117.78,930.58 1118.93,930.42 1120.09,930.26 1121.24,930.11 1122.39,929.96 1123.55,929.81 1124.70,929.67 1125.85,929.53 1127.01,929.39 1128.16,929.25 1129.31,929.12 1130.47,928.99 1131.62,928.86 1132.78,928.74 1133.93,928.62 1135.08,928.50 1136.24,928.39 1137.39,928.28 1138.54,928.17 1139.70,928.07 1140.85,927.97 1142.01,927.87 1143.16,927.77 1144.31,927.68 1145.47,927.59 1146.62,927.51 1147.77,927.42 1148.93,927.34 1150.08,927.27 1151.23,927.20 1152.39,927.13 1153.54,927.06 1154.70,927.00 1155.85,926.94 1157.00,926.88 1158.16,926.83 1159.31,926.78 1160.46,926.73 1161.62,926.69 1162.77,926.65 1163.92,926.61 1165.08,926.58 1166.23,926.55 1167.39,926.52 1168.54,926.50 1169.69,926.48 1170.85,926.46 1172.00,926.44 1173.15,926.43 1174.31,926.43 1175.46,926.42 1176.61,926.42 1177.77,926.43 1178.92,926.43 1180.08,926.44 1181.23,926.45 1182.38,926.47 1183.54,926.49 1184.69,926.51 1185.84,926.54 1187.00,926.57 1188.15,926.60 1189.30,926.63 1190.46,926.67 1191.61,926.71 1192.77,926.76 1193.92,926.81 1195.07,926.86 1196.23,926.92 1197.38,926.98 1198.53,927.04 1199.69,927.10 1200.84,927.17 1201.99,927.24 1203.15,927.32 1204.30,927.39 1205.46,927.48 1206.61,927.56 1207.76,927.65 1208.92,927.74 1210.07,927.83 1211.22,927.93 1212.38,928.03 1213.53,928.13 1214.68,928.24 1215.84,928.35 1216.99,928.46 1218.15,928.58 1219.30,928.70 1220.45,928.82 1221.61,928.94 1222.76,929.07 1223.91,929.20 1225.07,929.34 1226.22,929.47 1227.38,929.62 1228.53,929.76 1229.68,929.90 1230.84,930.05 1231.99,930.21 1233.14,930.36 1234.30,930.52 1235.45,930.68 1236.60,930.84 1237.76,931.01 1238.91,931.18 1240.07,931.35 1241.22,931.53 1242.37,931.71 1243.53,931.89 1244.68,932.07 1245.83,932.26 1246.99,932.45 1248.14,932.64 1249.29,932.83 1250.45,933.03 1251.60,933.23 1252.76,933.44 1253.91,933.64 1255.06,933.85 1256.22,934.06 1257.37,934.27 1258.52,934.49 1259.68,934.71 1260.83,934.93 1261.98,935.15 1263.14,935.38 1264.29,935.60 1265.45,935.84 1266.60,936.07 1267.75,936.30 1268.91,936.54 1270.06,936.78 1271.21,937.03 1272.37,937.27 1273.52,937.52 1274.67,937.77 1275.83,938.02 1276.98,938.27 1278.14,938.53 1279.29,938.79 1280.44,939.05 1281.60,939.31 1282.75,939.57 1283.90,939.84 1285.06,940.11 1286.21,940.38 1287.36,940.65 1288.52,940.93 1289.67,941.21 1290.83,941.48 1291.98,941.76 1293.13,942.05 1294.29,942.33 1295.44,942.62 1296.59,942.91 1297.75,943.20 1298.90,943.49 1300.05,943.78 1301.21,944.07 1302.36,944.37 1303.52,944.67 1304.67,944.97 1305.82,945.27 1306.98,945.57 1308.13,945.88 1309.28,946.19 1310.44,946.49 1311.59,946.80 1312.75,947.11 1313.90,947.42 1315.05,947.74 1316.21,948.05 1317.36,948.37 1318.51,948.69 1319.67,949.00 1320.82,949.32 1321.97,949.65 1323.13,949.97 1324.28,950.29 1325.44,950.62 1326.59,950.94 1327.74,951.27 1328.90,951.60 1330.05,951.93 1331.20,952.26 1332.36,952.59 1333.51,952.92 1334.66,953.25 1335.82,953.59 1336.97,953.92 1338.13,954.26 1339.28,954.59 1340.43,954.93 1341.59,955.27 1342.74,955.61 1343.89,955.95 1345.05,956.29 1346.20,956.63 1347.35,956.97 1348.51,957.31 1349.66,957.66 1350.82,958.00 1351.97,958.35 1353.12,958.69 1354.28,959.04 1355.43,959.38 1356.58,959.73 1357.74,960.07 1358.89,960.42 1360.04,960.77 1361.20,961.12 1362.35,961.47 1363.51,961.81 1364.66,962.16 1365.81,962.51 1366.97,962.86 1368.12,963.21 1369.27,963.56 1370.43,963.91 1371.58,964.26 1372.73,964.61 1373.89,964.96 1375.04,965.31 1376.20,965.66 1377.35,966.01 1378.50,966.37 1379.66,966.72 1380.81,967.07 1381.96,967.42 1383.12,967.77 1384.27,968.12 1385.43,968.47 1386.58,968.82 1387.73,969.17 1388.89,969.52 1390.04,969.87 1391.19,970.22 1392.35,970.57 1393.50,970.92 1394.65,971.27 1395.81,971.62 1396.96,971.97 1398.12,972.32 1399.27,972.66 1400.42,973.01 1401.58,973.36 1402.73,973.71 1403.88,974.05 1405.04,974.40 1406.19,974.74 1407.34,975.09 1408.50,975.43 1409.65,975.78 1410.81,976.12 1411.96,976.47 1413.11,976.81 1414.27,977.15 1415.42,977.49 1416.57,977.83 1417.73,978.17 1418.88,978.51 1420.03,978.85 1421.19,979.19 1422.34,979.53 1423.50,979.87 1424.65,980.21 1425.80,980.54 1426.96,980.88 1428.11,981.21 1429.26,981.55 1430.42,981.88 1431.57,982.21 1432.72,982.54 1433.88,982.88 1435.03,983.21 1436.19,983.54 1437.34,983.87 1438.49,984.19 1439.65,984.52 1440.80,984.85 1441.95,985.17 1443.11,985.50 1444.26,985.82 1445.41,986.14 1446.57,986.47 1447.72,986.79 1448.88,987.11 1450.03,987.43 1451.18,987.75 1452.34,988.06 1453.49,988.38 1454.64,988.70 1455.80,989.01 1456.95,989.32 1458.10,989.64 1459.26,989.95 1460.41,990.26 1461.57,990.57 1462.72,990.88 1463.87,991.19 1465.03,991.50 1466.18,991.80 1467.33,992.11 1468.49,992.41 1469.64,992.71 1470.80,993.02 1471.95,993.32 1473.10,993.62 1474.26,993.91 1475.41,994.21 1476.56,994.51 1477.72,994.81 1478.87,995.10 1480.02,995.39 1481.18,995.69 1482.33,995.98 1483.49,996.27 1484.64,996.56 1485.79,996.85 1486.95,997.13 1488.10,997.42 1489.25,997.70 1490.41,997.99 1491.56,998.27 1492.71,998.55 1493.87,998.83 1495.02,999.11 1496.18,999.39 1497.33,999.67 1498.48,999.94 1499.64,1000.22 1500.79,1000.49 1501.94,1000.76 1503.10,1001.04 1504.25,1001.31 1505.40,1001.58 1506.56,1001.84 1507.71,1002.11 1508.87,1002.38 1510.02,1002.64 1511.17,1002.90 1512.33,1003.17 1513.48,1003.43 1514.63,1003.69 1515.79,1003.95 1516.94,1004.21 1518.09,1004.46 1519.25,1004.72 1520.40,1004.97 1521.56,1005.23 1522.71,1005.48 1523.86,1005.73 1525.02,1005.98 1526.17,1006.23 1527.32,1006.48 1528.48,1006.72 1529.63,1006.97 1530.78,1007.21 1531.94,1007.46 1533.09,1007.70 1534.25,1007.94 1535.40,1008.18 1536.55,1008.42 1537.71,1008.66 1538.86,1008.89 1540.01,1009.13 1541.17,1009.36 1542.32,1009.60 1543.47,1009.83 1544.63,1010.06 1545.78,1010.29 1546.94,1010.52 1548.09,1010.75 1549.24,1010.97 1550.40,1011.20 1551.55,1011.42 1552.70,1011.65 1553.86,1011.87 1555.01,1012.09 1556.17,1012.31 1557.32,1012.53 1558.47,1012.75 1559.63,1012.96 1560.78,1013.18 1561.93,1013.39 1563.09,1013.61 1564.24,1013.82 1565.39,1014.03 1566.55,1014.24 1567.70,1014.45 1568.86,1014.66 1570.01,1014.86 1571.16,1015.07 1572.32,1015.27 1573.47,1015.48 1574.62,1015.68 1575.78,1015.88 1576.93,1016.08 1578.08,1016.28 1579.24,1016.48 1580.39,1016.68 1581.55,1016.88 1582.70,1017.07 1583.85,1017.27 1585.01,1017.46 1586.16,1017.65 1587.31,1017.84 1588.47,1018.03 1589.62,1018.22 1590.77,1018.41 1591.93,1018.60 1593.08,1018.79 1594.24,1018.97 1595.39,1019.16 1596.54,1019.34 1597.70,1019.52 1598.85,1019.70 1600.00,1019.89 1601.16,1020.06 1602.31,1020.24 1603.46,1020.42 1604.62,1020.60 1605.77,1020.77 1606.93,1020.95 1608.08,1021.12 1609.23,1021.30 1610.39,1021.47 1611.54,1021.64 1612.69,1021.81 1613.85,1021.98 1615.00,1022.15 1616.15,1022.31 1617.31,1022.48 1618.46,1022.65 1619.62,1022.81 1620.77,1022.97 1621.92,1023.14 1623.08,1023.30 1624.23,1023.46 1625.38,1023.62 1626.54,1023.78 1627.69,1023.94 1628.84,1024.09 1630.00,1024.25 1631.15,1024.41 1632.31,1024.56 1633.46,1024.72 1634.61,1024.87 1635.77,1025.02 1636.92,1025.17 1638.07,1025.32 1639.23,1025.47 1640.38,1025.62 1641.54,1025.77 1642.69,1025.92 1643.84,1026.06 1645.00,1026.21 1646.15,1026.35 1647.30,1026.50 1648.46,1026.64 1649.61,1026.78 1650.76,1026.92 1651.92,1027.06 1653.07,1027.20 1654.23,1027.34 1655.38,1027.48 1656.53,1027.62 1657.69,1027.76 1658.84,1027.89 1659.99,1028.03 1661.15,1028.16 1662.30,1028.30 1663.45,1028.43 1664.61,1028.56 1665.76,1028.69 1666.92,1028.82 1668.07,1028.95 1669.22,1029.08 1670.38,1029.21 1671.53,1029.34 1672.68,1029.46 1673.84,1029.59 1674.99,1029.71 1676.14,1029.84 1677.30,1029.96 1678.45,1030.09 1679.61,1030.21 1680.76,1030.33 1681.91,1030.45 1683.07,1030.57 1684.22,1030.69 1685.37,1030.81 1686.53,1030.93 1687.68,1031.05 1688.83,1031.16 1689.99,1031.28 1691.14,1031.40 1692.30,1031.51 1693.45,1031.62 1694.60,1031.74 1695.76,1031.85 1696.91,1031.96 1698.06,1032.08 1699.22,1032.19 1700.37,1032.30 1701.52,1032.41 1702.68,1032.51 1703.83,1032.62 1704.99,1032.73 1706.14,1032.84 1707.29,1032.94 1708.45,1033.05 1709.60,1033.16 1710.75,1033.26 1711.91,1033.36 1713.06,1033.47 1714.22,1033.57 1715.37,1033.67 1716.52,1033.77 1717.68,1033.87 1718.83,1033.97 1719.98,1034.07 1721.14,1034.17 1722.29,1034.27 1723.44,1034.37 1724.60,1034.47 1725.75,1034.56 1726.91,1034.66 1728.06,1034.76 1729.21,1034.85 1730.37,1034.95 1731.52,1035.04 1732.67,1035.13 1733.83,1035.23 1734.98,1035.32 1736.13,1035.41 1737.29,1035.50 1738.44,1035.59 1739.60,1035.68 1740.75,1035.77 1741.90,1035.86 1743.06,1035.95 1744.21,1036.04 1745.36,1036.13 1746.52,1036.21 1747.67,1036.30 1748.82,1036.38 1749.98,1036.47 1751.13,1036.55 1752.29,1036.64 1753.44,1036.72 1754.59,1036.81 1755.75,1036.89 1756.90,1036.97 1758.05,1037.05 1759.21,1037.14 1760.36,1037.22 1761.51,1037.30 1762.67,1037.38 1763.82,1037.46 1764.98,1037.53 1766.13,1037.61 1767.28,1037.69 1768.44,1037.77 1769.59,1037.85 1770.74,1037.92 1771.90,1038.00 1773.05,1038.07 1774.20,1038.15 1775.36,1038.23 1776.51,1038.30 1777.67,1038.37 1778.82,1038.45 1779.97,1038.52 1781.13,1038.59 1782.28,1038.66 1783.43,1038.74 1784.59,1038.81 1785.74,1038.88 1786.89,1038.95 1788.05,1039.02 1789.20,1039.09 1790.36,1039.16 1791.51,1039.23 1792.66,1039.30 1793.82,1039.36 1794.97,1039.43 1796.12,1039.50 1797.28,1039.56 1798.43,1039.63 1799.59,1039.70 1800.74,1039.76 1801.89,1039.83 1803.05,1039.89 1804.20,1039.96 1805.35,1040.02 1806.51,1040.08 1807.66,1040.15 1808.81,1040.21 1809.97,1040.27 1811.12,1040.33 1812.28,1040.40 1813.43,1040.46 1814.58,1040.52 1815.74,1040.58 1816.89,1040.64 1818.04,1040.70 1819.20,1040.76 1820.35,1040.82 1821.50,1040.88 1822.66,1040.94 1823.81,1040.99 1824.97,1041.05 1826.12,1041.11 1827.27,1041.17 1828.43,1041.22 1829.58,1041.28 1830.73,1041.33 1831.89,1041.39 1833.04,1041.45 1834.19,1041.50 1835.35,1041.55 1836.50,1041.61 1837.66,1041.66 1838.81,1041.72 1839.96,1041.77 1841.12,1041.82 1842.27,1041.88 1843.42,1041.93 1844.58,1041.98 1845.73,1042.03 1846.88,1042.08 1848.04,1042.13 1849.19,1042.19 1850.35,1042.24 1851.50,1042.29 1852.65,1042.34 1853.81,1042.39 1854.96,1042.43 1856.11,1042.48 1857.27,1042.53 1858.42,1042.58 1859.57,1042.63 1860.73,1042.68 1861.88,1042.72 1863.04,1042.77 1864.19,1042.82 1865.34,1042.86 1866.50,1042.91 1867.65,1042.96 1868.80,1043.00 1869.96,1043.05 1871.11,1043.09 1872.26,1043.14 1873.42,1043.18 1874.57,1043.23 1875.73,1043.27 1876.88,1043.32 1878.03,1043.36 1879.19,1043.40 1880.34,1043.45 1881.49,1043.49 1882.65,1043.53 1883.80,1043.57 1884.96,1043.62 1886.11,1043.66 1887.26,1043.70 1888.42,1043.74 1889.57,1043.78 1890.72,1043.82 1891.88,1043.86 1893.03,1043.90 1894.18,1043.94 1895.34,1043.98 1896.49,1044.02 1897.65,1044.06 1898.80,1044.10 1899.95,1044.14 1901.11,1044.18 1902.26,1044.22 1903.41,1044.25 1904.57,1044.29 1905.72,1044.33 1906.87,1044.37 1908.03,1044.40 1909.18,1044.44 1910.34,1044.48 1911.49,1044.51 1912.64,1044.55 1913.80,1044.59 1914.95,1044.62 1916.10,1044.66 1917.26,1044.69 1918.41,1044.73 1919.56,1044.76 1920.72,1044.80 1921.87,1044.83 1923.03,1044.87 1924.18,1044.90 1925.33,1044.94 1926.49,1044.97 1927.64,1045.00 1928.79,1045.04 1929.95,1045.07 1931.10,1045.10 1932.25,1045.14 1933.41,1045.17 1934.56,1045.20 1935.72,1045.23 1936.87,1045.26 1938.02,1045.30 1939.18,1045.33 1940.33,1045.36 1941.48,1045.39 1942.64,1045.42 1943.79,1045.45 1944.94,1045.48 1946.10,1045.51 1947.25,1045.54 1948.41,1045.57 1949.56,1045.60 1950.71,1045.63 1951.87,1045.66 1953.02,1045.69 1954.17,1045.72 1955.33,1045.75 1956.48,1045.78 1957.63,1045.81 1958.79,1045.83 1959.94,1045.86 1961.10,1045.89 1962.25,1045.92 1963.40,1045.95 1964.56,1045.97 1965.71,1046.00 1966.86,1046.03 1968.02,1046.06 1969.17,1046.08 1970.33,1046.11 1971.48,1046.14 1972.63,1046.16 1973.79,1046.19 1974.94,1046.21 1976.09,1046.24 1977.25,1046.27 1978.40,1046.29 1979.55,1046.32 1980.71,1046.34 1981.86,1046.37 1983.02,1046.39 1984.17,1046.42 1985.32,1046.44 1986.48,1046.47 1987.63,1046.49 1988.78,1046.52 1989.94,1046.54 1991.09,1046.56 1992.24,1046.59 1993.40,1046.61 1994.55,1046.63 1995.71,1046.66 1996.86,1046.68 1998.01,1046.70 1999.17,1046.73 2000.32,1046.75" fill="none" stroke="#0072BD" stroke-width="7.6" stroke-linejoin="round"/><rect x="1056" y="969" width="116" height="62.5" fill="#fff"/><line x1="1176.1" y1="956.20" x2="1176.1" y2="1020.45" stroke="#000" stroke-width="4"/><polygon points="1176.1,926.20 1167.1,961.70 1185.1,961.70" fill="#000" stroke="#000" stroke-width="2"/><polygon points="1176.1,1048.45 1167.1,1014.45 1185.1,1014.45" fill="#000" stroke="#000" stroke-width="2"/><rect x="304.4" y="454.5" width="797" height="177.8" fill="#fff" stroke="#000" stroke-width="5"/><line x1="334.1" y1="507.4" x2="457.8" y2="507.4" stroke="#7E2F8E" stroke-width="26.6"/><line x1="334.1" y1="580.9" x2="457.8" y2="580.9" stroke="#0072BD" stroke-width="10"/><g font-family="'Liberation Serif', 'Times New Roman', serif" fill="#000"><text x="490.6" y="522.8" font-size="67">OL (Full Model)</text><text x="490.6" y="597.7" font-size="67">ol (Simplified Model)</text><text transform="translate(244.3,131.25) scale(0.967,1.03)" x="3" font-size="68" text-anchor="end">100</text><text transform="translate(244.3,270.73) scale(0.967,1.03)" x="3" font-size="68" text-anchor="end">50</text><text transform="translate(244.3,410.20) scale(0.967,1.03)" x="3" font-size="68" text-anchor="end">0</text><text transform="translate(244.3,549.67) scale(1.0,1.03)" x="3" font-size="68" text-anchor="end">−50</text><text transform="translate(244.3,689.15) scale(1.0,1.03)" x="3" font-size="68" text-anchor="end">−100</text><text transform="translate(244.3,788.20) scale(1.0,1.03)" x="3" font-size="68" text-anchor="end">−90</text><text transform="translate(244.3,927.72) scale(1.0,1.03)" x="3" font-size="68" text-anchor="end">−135</text><text transform="translate(244.3,1067.25) scale(1.0,1.03)" x="3" font-size="68" text-anchor="end">−180</text><text transform="translate(244.3,1206.77) scale(1.0,1.03)" x="3" font-size="68" text-anchor="end">−225</text><text transform="translate(244.3,1346.30) scale(1.0,1.03)" x="3" font-size="68" text-anchor="end">−270</text><text transform="translate(240.30,1422) scale(0.95,1.04)" font-size="68">10</text><text x="311.80" y="1388.9" font-size="42">1</text><text transform="translate(647.10,1422) scale(0.95,1.04)" font-size="68">10</text><text x="717.20" y="1388.9" font-size="42">2</text><text transform="translate(1079.60,1422) scale(0.95,1.04)" font-size="68">10</text><text x="1151.40" y="1388.9" font-size="42">3</text><text transform="translate(1520.00,1422) scale(0.95,1.04)" font-size="68">10</text><text x="1590.90" y="1388.9" font-size="42">4</text><text transform="translate(1944.30,1422) scale(0.95,1.04)" font-size="68">10</text><text x="2013.80" y="1388.9" font-size="42">5</text><text x="908.3" y="1495.7" font-size="67">Frequency</text><text transform="translate(1200.8,1497.6) skewX(-7)" font-family="DejaVu Serif, serif" font-size="63.6" font-style="italic">f</text><text x="1242.4" y="1495.7" font-size="67">(Hz)</text><text transform="translate(80.8,394.4) rotate(-90)" font-size="67" text-anchor="middle">Magnitude (dB)</text><text transform="translate(81.2,1049.35) rotate(-90)" font-size="67" text-anchor="middle">Phase (deg)</text><text transform="translate(996.70,76.9) skewX(-7)" font-family="DejaVu Serif, serif" font-size="63.6" font-style="italic">f</text><text x="1021.60" y="92.6" font-size="47">PI</text><text transform="translate(1128.80,76.9) skewX(-7)" font-family="DejaVu Serif, serif" font-size="63.6" font-style="italic">f</text><text x="1153.70" y="92.6" font-size="47">CO</text><text transform="translate(1272.80,76.9) skewX(-7)" font-family="DejaVu Serif, serif" font-size="63.6" font-style="italic">f</text><text x="1297.80" y="92.6" font-size="47">EQ</text><text transform="translate(1682.80,76.9) skewX(-7)" font-family="DejaVu Serif, serif" font-size="63.6" font-style="italic">f</text><text x="1707.80" y="92.6" font-size="47">Isw</text><text x="1063.4" y="1016.7" font-size="69" font-style="italic">PM</text></g></svg></body></html>
